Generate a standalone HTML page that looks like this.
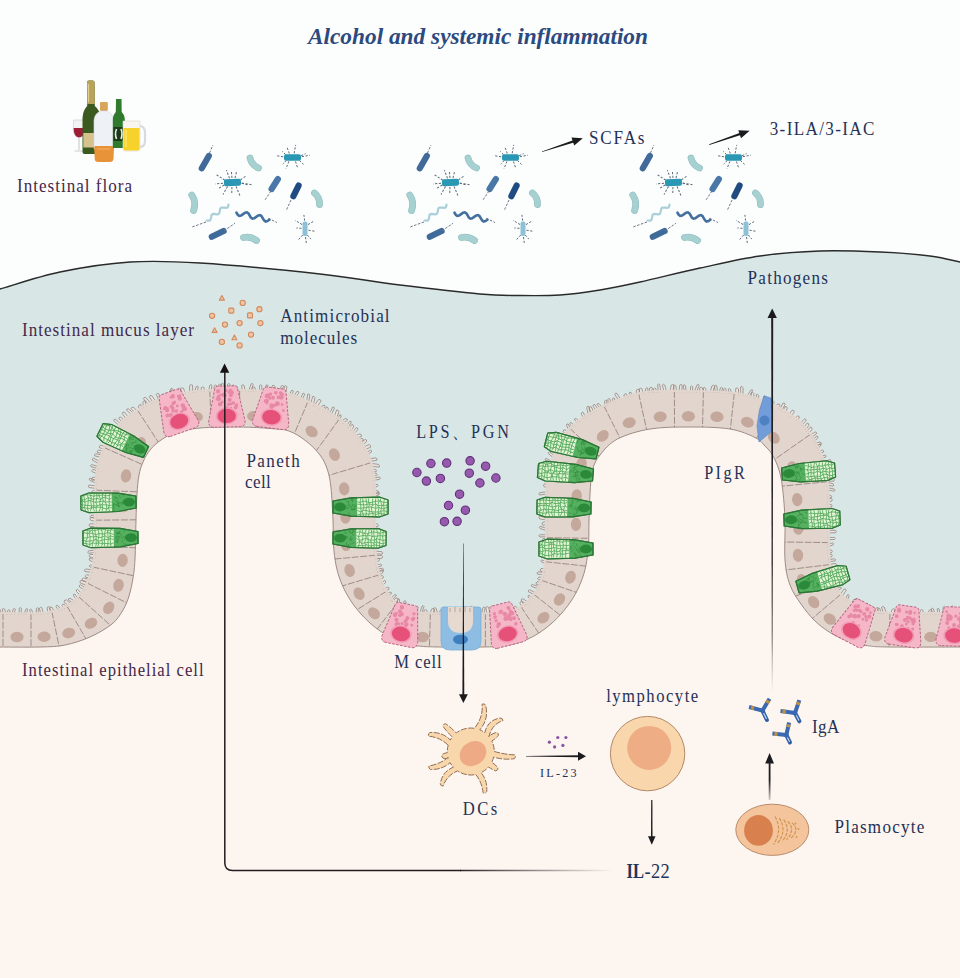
<!DOCTYPE html>
<html><head><meta charset="utf-8"><style>
html,body{margin:0;padding:0;background:#fdf5f0;}
svg{display:block;}
text{font-family:"Liberation Serif",serif;}
</style></head><body>
<svg width="960" height="978" viewBox="0 0 960 978">
<rect x="0" y="0" width="960" height="978" fill="#fdf5f0"/>
<path d="M -5.0 613.0 C 2.5 613.0 29.2 613.7 40.0 613.0 C 50.8 612.3 54.2 611.2 60.0 609.0 C 65.8 606.8 70.7 604.0 75.0 600.0 C 79.3 596.0 83.0 590.8 86.0 585.0 C 89.0 579.2 91.5 572.5 93.0 565.0 C 94.5 557.5 94.7 550.8 95.0 540.0 C 95.3 529.2 94.7 511.7 95.0 500.0 C 95.3 488.3 95.5 478.8 97.0 470.0 C 98.5 461.2 100.8 454.0 104.0 447.0 C 107.2 440.0 111.2 433.7 116.0 428.0 C 120.8 422.3 127.0 417.3 133.0 413.0 C 139.0 408.7 145.5 405.0 152.0 402.0 C 158.5 399.0 164.5 396.8 172.0 395.0 C 179.5 393.2 185.7 391.8 197.0 391.0 C 208.3 390.2 225.3 389.7 240.0 390.0 C 254.7 390.3 273.8 391.2 285.0 393.0 C 296.2 394.8 300.0 398.0 307.0 401.0 C 314.0 404.0 320.3 407.0 327.0 411.0 C 333.7 415.0 341.5 420.2 347.0 425.0 C 352.5 429.8 356.3 434.8 360.0 440.0 C 363.7 445.2 366.7 450.2 369.0 456.0 C 371.3 461.8 373.0 467.7 374.0 475.0 C 375.0 482.3 374.8 489.2 375.0 500.0 C 375.2 510.8 374.7 529.2 375.0 540.0 C 375.3 550.8 375.7 557.5 377.0 565.0 C 378.3 572.5 380.3 579.2 383.0 585.0 C 385.7 590.8 388.8 595.8 393.0 600.0 C 397.2 604.2 402.7 607.8 408.0 610.0 C 413.3 612.2 409.7 612.5 425.0 613.0 C 440.3 613.5 485.0 613.5 500.0 613.0 C 515.0 612.5 510.3 612.0 515.0 610.0 C 519.7 608.0 524.2 604.7 528.0 601.0 C 531.8 597.3 535.3 593.2 538.0 588.0 C 540.7 582.8 542.7 577.2 544.0 570.0 C 545.3 562.8 545.7 556.7 546.0 545.0 C 546.3 533.3 545.7 511.7 546.0 500.0 C 546.3 488.3 546.5 483.0 548.0 475.0 C 549.5 467.0 552.2 458.8 555.0 452.0 C 557.8 445.2 561.2 439.2 565.0 434.0 C 568.8 428.8 572.8 425.0 578.0 421.0 C 583.2 417.0 589.4 413.5 596.0 410.0 C 602.6 406.5 609.2 403.0 617.5 400.0 C 625.8 397.0 633.9 393.5 646.0 392.0 C 658.1 390.5 675.2 390.8 690.0 391.0 C 704.8 391.2 723.0 391.5 735.0 393.0 C 747.0 394.5 753.7 397.0 762.0 400.0 C 770.3 403.0 778.2 406.8 785.0 411.0 C 791.8 415.2 797.8 419.7 803.0 425.0 C 808.2 430.3 812.5 436.8 816.0 443.0 C 819.5 449.2 822.0 455.0 824.0 462.0 C 826.0 469.0 827.2 475.3 828.0 485.0 C 828.8 494.7 828.8 508.3 829.0 520.0 C 829.2 531.7 828.5 545.8 829.0 555.0 C 829.5 564.2 830.3 568.8 832.0 575.0 C 833.7 581.2 835.7 587.3 839.0 592.0 C 842.3 596.7 846.8 600.0 852.0 603.0 C 857.2 606.0 863.7 608.3 870.0 610.0 C 876.3 611.7 874.2 612.5 890.0 613.0 C 905.8 613.5 952.5 613.0 965.0 613.0 L 965 -5 L -5 -5 Z" fill="#d9e6e6"/>
<path d="M -5.0 290.0 C -4.2 289.8 -10.8 292.0 0.0 289.0 C 10.8 286.0 38.3 276.5 60.0 272.0 C 81.7 267.5 106.7 263.5 130.0 262.0 C 153.3 260.5 168.3 261.0 200.0 263.0 C 231.7 265.0 286.7 270.3 320.0 274.0 C 353.3 277.7 373.3 281.7 400.0 285.0 C 426.7 288.3 460.0 292.2 480.0 294.0 C 500.0 295.8 506.7 295.3 520.0 295.5 C 533.3 295.7 546.7 295.9 560.0 295.0 C 573.3 294.1 586.7 292.2 600.0 290.0 C 613.3 287.8 623.3 285.7 640.0 282.0 C 656.7 278.3 680.0 272.3 700.0 268.0 C 720.0 263.7 740.0 258.8 760.0 256.0 C 780.0 253.2 800.0 251.7 820.0 251.0 C 840.0 250.3 861.7 251.2 880.0 252.0 C 898.3 252.8 916.7 254.3 930.0 256.0 C 943.3 257.7 954.2 260.8 960.0 262.0 C 965.8 263.2 964.2 262.8 965.0 263.0 L 965 -5 L -5 -5 Z" fill="#fcfdfd"/>
<path d="M -5.0 613.0 C 2.5 613.0 29.2 613.7 40.0 613.0 C 50.8 612.3 54.2 611.2 60.0 609.0 C 65.8 606.8 70.7 604.0 75.0 600.0 C 79.3 596.0 83.0 590.8 86.0 585.0 C 89.0 579.2 91.5 572.5 93.0 565.0 C 94.5 557.5 94.7 550.8 95.0 540.0 C 95.3 529.2 94.7 511.7 95.0 500.0 C 95.3 488.3 95.5 478.8 97.0 470.0 C 98.5 461.2 100.8 454.0 104.0 447.0 C 107.2 440.0 111.2 433.7 116.0 428.0 C 120.8 422.3 127.0 417.3 133.0 413.0 C 139.0 408.7 145.5 405.0 152.0 402.0 C 158.5 399.0 164.5 396.8 172.0 395.0 C 179.5 393.2 185.7 391.8 197.0 391.0 C 208.3 390.2 225.3 389.7 240.0 390.0 C 254.7 390.3 273.8 391.2 285.0 393.0 C 296.2 394.8 300.0 398.0 307.0 401.0 C 314.0 404.0 320.3 407.0 327.0 411.0 C 333.7 415.0 341.5 420.2 347.0 425.0 C 352.5 429.8 356.3 434.8 360.0 440.0 C 363.7 445.2 366.7 450.2 369.0 456.0 C 371.3 461.8 373.0 467.7 374.0 475.0 C 375.0 482.3 374.8 489.2 375.0 500.0 C 375.2 510.8 374.7 529.2 375.0 540.0 C 375.3 550.8 375.7 557.5 377.0 565.0 C 378.3 572.5 380.3 579.2 383.0 585.0 C 385.7 590.8 388.8 595.8 393.0 600.0 C 397.2 604.2 402.7 607.8 408.0 610.0 C 413.3 612.2 409.7 612.5 425.0 613.0 C 440.3 613.5 485.0 613.5 500.0 613.0 C 515.0 612.5 510.3 612.0 515.0 610.0 C 519.7 608.0 524.2 604.7 528.0 601.0 C 531.8 597.3 535.3 593.2 538.0 588.0 C 540.7 582.8 542.7 577.2 544.0 570.0 C 545.3 562.8 545.7 556.7 546.0 545.0 C 546.3 533.3 545.7 511.7 546.0 500.0 C 546.3 488.3 546.5 483.0 548.0 475.0 C 549.5 467.0 552.2 458.8 555.0 452.0 C 557.8 445.2 561.2 439.2 565.0 434.0 C 568.8 428.8 572.8 425.0 578.0 421.0 C 583.2 417.0 589.4 413.5 596.0 410.0 C 602.6 406.5 609.2 403.0 617.5 400.0 C 625.8 397.0 633.9 393.5 646.0 392.0 C 658.1 390.5 675.2 390.8 690.0 391.0 C 704.8 391.2 723.0 391.5 735.0 393.0 C 747.0 394.5 753.7 397.0 762.0 400.0 C 770.3 403.0 778.2 406.8 785.0 411.0 C 791.8 415.2 797.8 419.7 803.0 425.0 C 808.2 430.3 812.5 436.8 816.0 443.0 C 819.5 449.2 822.0 455.0 824.0 462.0 C 826.0 469.0 827.2 475.3 828.0 485.0 C 828.8 494.7 828.8 508.3 829.0 520.0 C 829.2 531.7 828.5 545.8 829.0 555.0 C 829.5 564.2 830.3 568.8 832.0 575.0 C 833.7 581.2 835.7 587.3 839.0 592.0 C 842.3 596.7 846.8 600.0 852.0 603.0 C 857.2 606.0 863.7 608.3 870.0 610.0 C 876.3 611.7 874.2 612.5 890.0 613.0 C 905.8 613.5 952.5 613.0 965.0 613.0 L 965.0 647.0 C 952.5 647.0 906.5 647.2 890.0 647.0 C 873.5 646.8 873.1 646.5 866.0 645.5 C 858.9 644.5 853.5 643.2 847.5 641.0 C 841.5 638.8 835.6 636.0 830.0 632.5 C 824.4 629.0 818.8 624.8 814.0 620.0 C 809.2 615.2 805.0 609.8 801.0 604.0 C 797.0 598.2 792.7 592.3 790.0 585.0 C 787.3 577.7 785.8 570.8 785.0 560.0 C 784.2 549.2 785.4 532.0 785.0 520.0 C 784.6 508.0 783.5 496.3 782.5 488.0 C 781.5 479.7 780.7 475.5 779.0 470.0 C 777.3 464.5 774.8 459.0 772.5 455.0 C 770.2 451.0 767.9 448.9 765.0 446.0 C 762.1 443.1 760.8 440.3 755.0 437.5 C 749.2 434.7 740.8 430.8 730.0 429.0 C 719.2 427.2 703.3 427.0 690.0 427.0 C 676.7 427.0 662.1 427.0 650.0 429.0 C 637.9 431.0 625.8 434.7 617.5 439.0 C 609.2 443.3 604.2 449.8 600.0 455.0 C 595.8 460.2 594.2 463.5 592.5 470.0 C 590.8 476.5 590.6 485.7 590.0 494.0 C 589.4 502.3 589.2 511.5 589.0 520.0 C 588.8 528.5 589.0 537.5 588.5 545.0 C 588.0 552.5 587.2 558.8 586.0 565.0 C 584.8 571.2 583.2 576.5 581.0 582.0 C 578.8 587.5 576.3 592.7 573.0 598.0 C 569.7 603.3 565.5 609.0 561.0 614.0 C 556.5 619.0 551.5 623.8 546.0 628.0 C 540.5 632.2 534.5 636.1 528.0 639.0 C 521.5 641.9 514.7 644.2 507.0 645.5 C 499.3 646.8 493.2 646.8 482.0 647.0 C 470.8 647.2 451.2 647.2 440.0 647.0 C 428.8 646.8 422.7 646.8 415.0 645.5 C 407.3 644.2 400.5 641.9 394.0 639.0 C 387.5 636.1 381.5 632.2 376.0 628.0 C 370.5 623.8 365.5 619.0 361.0 614.0 C 356.5 609.0 352.3 603.3 349.0 598.0 C 345.7 592.7 343.2 587.5 341.0 582.0 C 338.8 576.5 337.2 571.2 336.0 565.0 C 334.8 558.8 334.0 552.5 333.5 545.0 C 333.0 537.5 333.4 529.5 333.0 520.0 C 332.6 510.5 331.9 496.3 331.0 488.0 C 330.1 479.7 329.3 475.5 327.5 470.0 C 325.7 464.5 323.6 459.8 320.0 455.0 C 316.4 450.2 311.2 445.0 306.0 441.0 C 300.8 437.0 295.0 433.1 289.0 431.0 C 283.0 428.9 278.2 429.2 270.0 428.5 C 261.8 427.8 251.7 427.1 240.0 427.0 C 228.3 426.9 210.8 427.0 200.0 428.0 C 189.2 429.0 181.5 431.0 175.0 433.0 C 168.5 435.0 165.2 437.2 161.0 440.0 C 156.8 442.8 153.0 446.3 150.0 450.0 C 147.0 453.7 144.8 457.8 143.0 462.0 C 141.2 466.2 140.0 469.7 139.0 475.0 C 138.0 480.3 137.5 486.5 137.0 494.0 C 136.5 501.5 136.3 509.2 136.0 520.0 C 135.7 530.8 135.5 549.3 135.0 559.0 C 134.5 568.7 134.0 571.8 133.0 578.0 C 132.0 584.2 130.7 590.7 129.0 596.0 C 127.3 601.3 125.8 605.3 123.0 610.0 C 120.2 614.7 117.5 619.5 112.0 624.0 C 106.5 628.5 97.8 633.5 90.0 637.0 C 82.2 640.5 73.3 643.3 65.0 645.0 C 56.7 646.7 51.7 646.7 40.0 647.0 C 28.3 647.3 2.5 647.0 -5.0 647.0 Z" fill="#e2d5cd"/>
<path d="M -5.0 647.0 C 2.5 647.0 28.3 647.3 40.0 647.0 C 51.7 646.7 56.7 646.7 65.0 645.0 C 73.3 643.3 82.2 640.5 90.0 637.0 C 97.8 633.5 106.5 628.5 112.0 624.0 C 117.5 619.5 120.2 614.7 123.0 610.0 C 125.8 605.3 127.3 601.3 129.0 596.0 C 130.7 590.7 132.0 584.2 133.0 578.0 C 134.0 571.8 134.5 568.7 135.0 559.0 C 135.5 549.3 135.7 530.8 136.0 520.0 C 136.3 509.2 136.5 501.5 137.0 494.0 C 137.5 486.5 138.0 480.3 139.0 475.0 C 140.0 469.7 141.2 466.2 143.0 462.0 C 144.8 457.8 147.0 453.7 150.0 450.0 C 153.0 446.3 156.8 442.8 161.0 440.0 C 165.2 437.2 168.5 435.0 175.0 433.0 C 181.5 431.0 189.2 429.0 200.0 428.0 C 210.8 427.0 228.3 426.9 240.0 427.0 C 251.7 427.1 261.8 427.8 270.0 428.5 C 278.2 429.2 283.0 428.9 289.0 431.0 C 295.0 433.1 300.8 437.0 306.0 441.0 C 311.2 445.0 316.4 450.2 320.0 455.0 C 323.6 459.8 325.7 464.5 327.5 470.0 C 329.3 475.5 330.1 479.7 331.0 488.0 C 331.9 496.3 332.6 510.5 333.0 520.0 C 333.4 529.5 333.0 537.5 333.5 545.0 C 334.0 552.5 334.8 558.8 336.0 565.0 C 337.2 571.2 338.8 576.5 341.0 582.0 C 343.2 587.5 345.7 592.7 349.0 598.0 C 352.3 603.3 356.5 609.0 361.0 614.0 C 365.5 619.0 370.5 623.8 376.0 628.0 C 381.5 632.2 387.5 636.1 394.0 639.0 C 400.5 641.9 407.3 644.2 415.0 645.5 C 422.7 646.8 428.8 646.8 440.0 647.0 C 451.2 647.2 470.8 647.2 482.0 647.0 C 493.2 646.8 499.3 646.8 507.0 645.5 C 514.7 644.2 521.5 641.9 528.0 639.0 C 534.5 636.1 540.5 632.2 546.0 628.0 C 551.5 623.8 556.5 619.0 561.0 614.0 C 565.5 609.0 569.7 603.3 573.0 598.0 C 576.3 592.7 578.8 587.5 581.0 582.0 C 583.2 576.5 584.8 571.2 586.0 565.0 C 587.2 558.8 588.0 552.5 588.5 545.0 C 589.0 537.5 588.8 528.5 589.0 520.0 C 589.2 511.5 589.4 502.3 590.0 494.0 C 590.6 485.7 590.8 476.5 592.5 470.0 C 594.2 463.5 595.8 460.2 600.0 455.0 C 604.2 449.8 609.2 443.3 617.5 439.0 C 625.8 434.7 637.9 431.0 650.0 429.0 C 662.1 427.0 676.7 427.0 690.0 427.0 C 703.3 427.0 719.2 427.2 730.0 429.0 C 740.8 430.8 749.2 434.7 755.0 437.5 C 760.8 440.3 762.1 443.1 765.0 446.0 C 767.9 448.9 770.2 451.0 772.5 455.0 C 774.8 459.0 777.3 464.5 779.0 470.0 C 780.7 475.5 781.5 479.7 782.5 488.0 C 783.5 496.3 784.6 508.0 785.0 520.0 C 785.4 532.0 784.2 549.2 785.0 560.0 C 785.8 570.8 787.3 577.7 790.0 585.0 C 792.7 592.3 797.0 598.2 801.0 604.0 C 805.0 609.8 809.2 615.2 814.0 620.0 C 818.8 624.8 824.4 629.0 830.0 632.5 C 835.6 636.0 841.5 638.8 847.5 641.0 C 853.5 643.2 858.9 644.5 866.0 645.5 C 873.1 646.5 873.5 646.8 890.0 647.0 C 906.5 647.2 952.5 647.0 965.0 647.0" fill="none" stroke="#9e8c86" stroke-width="1"/>
<path d="M3.0 613.1L3.0 647.0 M31.0 613.3L31.0 647.1 M51.9 611.6L59.0 646.0 M66.8 605.9L85.9 638.7 M78.4 596.5L110.4 625.3 M87.0 583.0L126.6 602.8 M92.6 567.0L133.4 575.7 M94.8 546.2L135.4 547.8 M95.0 520.2L136.0 519.8 M95.3 490.2L137.1 491.8 M103.8 447.4L142.0 464.4 M137.4 410.0L158.2 442.0 M175.0 394.3L183.5 430.7 M209.8 390.3L211.3 427.3 M239.7 390.0L239.3 427.0 M269.7 391.3L267.2 428.3 M308.0 401.4L294.5 433.4 M339.3 419.0L316.4 450.6 M371.3 462.6L329.0 475.3 M375.0 503.2L332.2 503.1 M374.9 531.2L333.2 531.0 M375.7 555.2L334.9 559.0 M379.3 574.9L342.6 585.8 M386.3 591.4L357.2 609.6 M396.8 603.4L377.3 629.0 M412.5 612.0L401.9 642.1 M430.4 613.1L429.4 646.8 M457.4 613.4L457.4 647.2 M485.4 613.3L485.4 646.9 M509.4 612.5L513.2 644.2 M520.9 606.7L538.7 633.1 M534.0 594.4L560.0 615.1 M541.3 580.3L576.3 592.3 M545.2 561.7L585.8 566.1 M546.1 537.7L588.8 538.3 M545.9 510.7L589.3 510.3 M548.2 473.9L590.8 482.3 M569.8 428.3L599.1 456.1 M603.9 405.9L619.9 437.8 M638.6 393.3L646.6 429.6 M674.4 390.9L674.5 427.1 M703.4 391.2L702.5 427.1 M734.3 392.9L730.4 429.1 M772.5 404.3L756.6 438.4 M810.5 434.3L774.8 459.3 M827.7 481.7L782.3 486.1 M828.9 513.6L784.7 514.0 M828.8 542.6L784.8 542.0 M829.8 564.6L786.1 569.9 M834.1 582.0L795.6 596.0 M840.8 594.3L812.4 618.4 M852.6 603.4L834.7 635.2 M870.3 610.1L860.9 644.7 M890.0 613.0L888.8 647.0 M917.0 613.2L916.8 647.1 M945.0 613.1L944.8 647.1" fill="none" stroke="#8a7672" stroke-width="0.85" stroke-dasharray="7 1.6" opacity="0.9"/>
<path d="M-1.4 614.2L-3.0 609.0Q-2.0 607.5 -0.2 609.0L1.4 614.3 M3.7 614.3L2.2 609.2Q3.0 607.7 4.7 609.2L6.2 614.3 M7.9 614.4L7.7 610.5Q8.7 609.0 9.9 610.5L10.1 614.4 M11.9 614.4L13.2 609.1Q14.6 607.6 15.3 609.1L14.1 614.4 M19.0 614.5L19.3 608.3Q20.4 606.8 21.4 608.3L21.0 614.5 M24.0 614.5L25.7 609.3Q27.2 607.8 27.7 609.2L26.0 614.5 M31.0 614.5L29.6 609.8Q30.3 608.3 31.7 609.7L33.1 614.4 M36.0 614.4L36.4 608.5Q37.5 606.9 38.4 608.3L38.1 614.3 M40.9 614.3L39.4 608.2Q40.3 606.5 41.9 607.8L43.4 613.9 M48.0 613.6L47.1 607.7Q48.1 605.9 49.5 607.1L50.4 613.0 M52.1 612.9L49.6 608.2Q50.1 606.4 52.0 607.2L54.5 612.0 M59.1 610.7L56.0 606.6Q56.1 604.9 58.0 605.6L61.0 609.8 M64.6 608.5L62.1 605.6Q62.2 603.8 64.2 604.2L66.7 607.2 M69.0 606.2L64.0 601.8Q64.0 599.8 66.3 599.9L71.3 604.3 M73.4 603.1L68.4 600.0Q68.0 598.4 70.1 598.3L75.1 601.4 M76.7 600.2L73.5 595.7Q73.2 593.5 74.8 594.0L77.9 598.6 M80.7 595.8L76.4 591.4Q75.9 589.3 77.6 589.4L81.9 593.8 M84.7 590.0L79.4 587.0Q78.7 585.1 80.5 584.8L85.8 587.8 M87.1 585.6L80.1 582.8Q79.3 581.0 81.2 580.3L88.2 583.2 M88.9 581.9L82.4 580.5Q81.3 578.9 83.3 578.0L89.8 579.5 M90.5 578.2L85.8 577.3Q84.7 575.7 86.6 574.7L91.2 575.6 M92.5 572.4L84.9 571.5Q83.7 570.0 85.5 569.0L93.0 569.9 M93.6 568.3L90.0 567.0Q88.7 565.5 90.3 564.9L93.9 566.1 M94.8 562.5L89.7 560.5Q88.4 558.7 89.9 558.0L95.0 560.0 M95.4 557.7L90.0 557.2Q88.5 555.6 90.1 554.3L95.5 554.8 M95.7 552.4L88.5 553.3Q87.0 552.3 88.6 550.9L95.8 550.0 M96.0 546.3L89.6 546.7Q88.1 545.7 89.6 544.5L96.1 544.1 M96.2 541.3L91.9 542.1Q90.4 541.2 91.9 539.8L96.2 539.1 M96.3 537.3L89.2 538.9Q87.7 538.1 89.2 536.6L96.3 535.0 M96.3 531.5L91.0 532.0Q89.5 530.9 91.0 529.4L96.3 528.9 M96.3 526.5L89.8 526.5Q88.3 525.2 89.8 523.9L96.2 523.9 M96.2 521.6L90.7 520.3Q89.2 518.4 90.7 517.3L96.2 518.7 M96.2 517.2L91.0 517.6Q89.5 516.7 91.0 515.5L96.2 515.1 M96.1 510.3L92.3 511.4Q90.8 510.7 92.3 509.2L96.1 508.1 M96.1 504.3L92.1 503.9Q90.7 502.7 92.2 501.8L96.2 502.2 M96.2 499.4L92.0 500.4Q90.6 499.6 92.1 498.1L96.3 497.0 M96.4 492.4L92.6 493.0Q91.1 492.1 92.7 490.7L96.5 490.1 M96.5 488.5L89.0 487.5Q87.6 486.0 89.1 485.0L96.7 486.0 M96.8 483.5L89.8 480.4Q88.5 478.6 90.1 478.0L97.0 481.1 M97.0 479.7L92.0 480.2Q90.7 479.0 92.4 477.5L97.4 477.0 M97.6 473.7L92.3 471.9Q91.1 470.2 92.8 469.4L98.1 471.2 M98.4 468.7L91.1 466.7Q89.9 465.2 91.6 464.6L98.9 466.6 M99.4 463.9L92.7 460.3Q91.8 458.4 93.5 458.1L100.1 461.7 M101.2 457.3L94.8 455.9Q93.7 454.5 95.7 453.7L102.1 455.1 M102.5 453.6L97.5 452.4Q96.5 450.9 98.5 450.1L103.5 451.3 M104.2 449.2L99.4 447.6Q98.7 445.9 100.8 445.2L105.6 446.7 M107.2 442.9L102.2 437.8Q101.8 435.6 103.7 435.5L108.7 440.6 M109.7 438.6L106.1 436.0Q105.7 434.1 107.7 433.8L111.3 436.4 M112.6 434.3L107.1 430.0Q106.6 428.2 108.5 428.3L113.9 432.6 M114.6 431.4L109.0 426.2Q108.9 424.1 111.1 424.1L116.7 429.3 M119.4 425.9L113.8 420.7Q113.5 418.9 115.5 419.2L121.1 424.4 M122.9 422.6L118.9 418.7Q118.8 416.8 120.8 417.1L124.8 421.0 M126.5 419.4L122.3 413.7Q122.5 411.7 124.4 412.1L128.7 417.8 M132.1 415.0L126.6 410.2Q126.4 408.5 128.6 408.9L134.1 413.7 M135.2 412.8L131.2 408.7Q131.3 406.9 133.6 407.3L137.6 411.4 M139.3 410.1L138.5 406.1Q139.4 403.9 140.9 404.8L141.7 408.8 M143.6 407.6L142.8 402.2Q143.8 400.0 145.2 401.0L146.0 406.4 M148.9 404.8L143.4 398.7Q143.6 397.0 145.8 397.6L151.3 403.7 M153.2 402.7L149.2 396.7Q149.6 395.0 151.8 395.7L155.9 401.7 M158.8 400.3L156.3 394.4Q157.0 392.7 158.8 393.7L161.3 399.5 M164.4 398.3L164.2 394.7Q165.4 392.8 166.8 394.0L167.0 397.6 M169.3 396.9L169.7 390.9Q170.9 389.0 172.0 390.3L171.6 396.3 M173.2 395.9L170.4 389.3Q170.9 387.6 172.6 388.8L175.4 395.4 M178.0 394.8L178.1 389.0Q179.3 387.3 180.4 388.7L180.3 394.4 M182.5 393.8L180.6 388.7Q181.5 387.1 183.5 388.4L185.4 393.5 M189.5 392.9L189.7 385.5Q191.2 383.8 192.5 385.2L192.3 392.6 M194.6 392.4L195.9 387.0Q197.5 385.4 198.3 386.8L197.1 392.2 M201.4 391.9L201.2 387.7Q202.6 386.2 204.1 387.6L204.2 391.8 M208.7 391.5L209.7 385.4Q211.0 383.8 211.9 385.3L210.9 391.5 M213.5 391.4L214.3 385.8Q215.7 384.3 216.8 385.8L216.1 391.3 M218.5 391.2L218.6 384.8Q219.8 383.3 221.1 384.8L221.0 391.2 M223.7 391.1L221.4 383.8Q222.0 382.3 223.6 383.8L225.8 391.1 M227.5 391.1L227.5 384.3Q228.8 382.8 230.1 384.3L230.0 391.1 M231.5 391.1L232.0 385.7Q233.4 384.2 234.5 385.7L234.0 391.1 M235.5 391.1L234.9 386.7Q236.0 385.3 237.4 386.8L238.0 391.2 M242.4 391.2L241.6 385.5Q242.7 384.1 244.2 385.6L245.0 391.3 M248.6 391.4L251.0 384.1Q252.5 382.6 253.2 384.2L250.8 391.5 M253.5 391.6L252.6 387.5Q253.5 386.0 255.0 387.6L255.9 391.7 M259.6 391.9L259.6 385.5Q260.8 384.1 261.8 385.6L261.8 392.0 M263.6 392.1L266.0 385.4Q267.6 384.0 268.1 385.6L265.7 392.3 M268.1 392.4L269.6 388.4Q271.6 387.1 272.6 388.7L271.1 392.7 M273.1 392.8L272.0 385.9Q273.2 384.5 274.9 386.2L276.0 393.1 M278.4 393.3L281.4 385.9Q283.1 384.7 283.6 386.3L280.5 393.6 M283.2 393.8L284.6 386.1Q286.0 385.0 286.9 386.8L285.5 394.4 M289.1 394.9L291.5 390.6Q293.2 389.6 293.4 391.3L291.0 395.6 M293.7 396.2L296.8 391.6Q298.7 390.9 298.9 392.7L295.8 397.2 M300.2 399.2L302.8 393.5Q304.3 392.6 304.7 394.4L302.1 400.0 M306.5 402.1L307.7 394.2Q309.0 393.1 309.8 395.1L308.5 403.0 M310.8 403.9L312.6 396.6Q314.2 395.7 315.0 397.8L313.3 405.1 M314.3 405.5L318.5 399.6Q320.7 399.1 321.1 401.0L316.9 406.9 M319.8 408.3L323.0 405.3Q325.2 404.9 325.2 406.6L322.0 409.6 M325.0 411.2L326.0 407.2Q327.6 406.4 328.3 408.7L327.3 412.6 M329.5 413.9L332.6 407.1Q334.1 406.3 334.3 408.3L331.2 415.0 M334.2 416.9L336.6 410.1Q338.3 409.4 338.9 411.7L336.5 418.5 M337.8 419.4L339.6 414.9Q341.0 414.1 341.2 416.2L339.4 420.6 M340.8 421.4L345.5 418.5Q347.8 418.6 347.4 420.3L342.7 423.2 M346.4 425.9L349.8 421.2Q351.4 420.7 351.2 422.7L347.8 427.4 M349.0 428.3L351.8 424.5Q353.7 424.4 353.7 426.8L350.8 430.5 M352.5 432.1L356.4 427.7Q358.1 427.5 357.8 429.6L353.9 434.1 M355.4 435.7L359.8 433.9Q362.1 434.5 361.5 436.3L357.2 438.2 M358.5 439.9L361.8 438.4Q363.9 438.9 363.2 440.6L359.9 442.0 M360.8 443.1L365.3 439.4Q367.1 439.5 366.5 441.6L362.0 445.3 M363.4 447.1L369.2 444.6Q371.2 445.4 370.4 447.3L364.6 449.7 M366.3 452.6L370.6 450.1Q372.2 450.4 371.3 452.2L367.0 454.7 M368.9 458.8L376.0 457.9Q377.8 459.0 376.7 460.4L369.6 461.3 M370.4 463.3L378.5 464.4Q380.4 466.0 379.1 467.2L371.0 466.1 M371.9 469.4L375.7 469.5Q377.4 470.6 376.1 471.7L372.2 471.6 M372.6 473.2L376.4 473.3Q378.0 474.6 376.6 475.7L372.8 475.6 M373.2 478.2L379.6 477.0Q381.1 477.9 379.6 479.3L373.3 480.4 M373.6 485.1L377.3 484.3Q378.8 485.0 377.3 486.5L373.6 487.4 M373.7 489.8L378.3 491.2Q379.9 493.2 378.4 494.2L373.7 492.7 M373.7 493.8L378.6 492.2Q380.1 493.1 378.6 495.1L373.8 496.7 M373.8 501.0L378.9 499.3Q380.4 500.0 378.9 501.7L373.8 503.4 M373.8 506.1L378.5 506.7Q380.0 508.0 378.5 508.9L373.8 508.4 M373.8 512.2L377.7 513.1Q379.2 514.5 377.7 515.2L373.8 514.3 M373.8 516.1L377.5 514.9Q379.0 515.5 377.4 517.2L373.8 518.4 M373.7 522.8L377.6 524.1Q379.1 526.0 377.6 526.9L373.7 525.7 M373.7 527.8L380.0 528.7Q381.5 530.4 380.0 531.6L373.7 530.7 M373.7 533.0L380.5 533.9Q382.0 535.3 380.5 536.4L373.7 535.5 M373.8 539.3L380.4 539.7Q381.9 540.8 380.5 541.7L373.8 541.3 M373.9 543.9L380.1 544.5Q381.7 546.1 380.3 547.3L374.1 546.7 M374.2 551.1L381.7 551.6Q383.4 553.0 382.0 554.2L374.5 553.6 M374.5 555.9L381.6 555.4Q383.3 556.7 382.0 558.2L374.9 558.8 M375.0 560.1L378.5 558.2Q380.2 558.7 379.0 560.8L375.5 562.7 M375.8 565.4L380.8 564.1Q382.4 564.7 381.2 566.1L376.3 567.4 M376.5 569.2L382.7 568.3Q384.5 569.2 383.4 570.7L377.2 571.6 M377.4 572.9L382.1 569.6Q383.8 570.1 383.0 572.4L378.3 575.7 M378.5 577.0L382.1 575.5Q384.0 576.1 383.2 578.0L379.6 579.5 M381.1 583.9L384.4 580.4Q386.1 580.3 385.5 582.4L382.2 585.8 M383.7 589.3L387.6 587.2Q389.6 587.4 389.0 589.2L385.0 591.3 M386.3 593.9L389.9 592.1Q392.0 592.3 391.4 593.8L387.8 595.6 M390.1 598.8L394.7 594.7Q396.6 594.3 396.2 596.0L391.6 600.2 M392.7 601.6L396.0 597.9Q398.1 597.6 398.2 599.5L394.9 603.2 M396.9 605.2L397.9 599.0Q399.0 597.9 399.7 599.9L398.7 606.1 M402.8 608.9L404.1 601.0Q405.4 600.0 406.1 602.0L404.8 609.8 M407.4 611.4L408.3 606.7Q409.8 605.4 410.7 607.1L409.9 611.8 M413.1 613.6L415.8 606.9Q417.6 605.5 418.3 607.0L415.7 613.7 M419.4 614.0L422.0 606.4Q423.5 604.9 424.0 606.4L421.4 614.1 M423.9 614.2L424.0 610.4Q425.5 608.9 427.0 610.4L426.9 614.2 M429.9 614.3L431.5 609.2Q433.4 607.7 434.4 609.2L432.9 614.4 M435.1 614.4L433.7 608.4Q434.6 606.9 436.2 608.4L437.7 614.4 M439.2 614.5L440.1 610.4Q441.7 608.9 442.6 610.4L441.7 614.5 M444.0 614.5L442.8 608.0Q443.9 606.5 445.7 608.0L446.9 614.5 M447.9 614.5L446.7 609.3Q447.8 607.8 449.7 609.3L450.9 614.5 M454.2 614.6L455.0 609.3Q456.5 607.8 457.5 609.3L456.6 614.6 M460.4 614.6L461.6 609.7Q462.9 608.2 463.6 609.7L462.4 614.6 M466.0 614.6L464.0 607.5Q465.1 606.0 467.0 607.5L468.9 614.6 M471.2 614.6L470.1 607.2Q471.1 605.7 472.5 607.2L473.6 614.5 M475.4 614.5L476.7 609.4Q478.1 607.8 478.8 609.3L477.5 614.5 M481.3 614.5L482.9 607.7Q484.4 606.2 485.2 607.7L483.6 614.5 M487.0 614.5L485.8 607.4Q487.0 605.9 488.7 607.3L489.9 614.4 M491.3 614.4L490.8 606.7Q491.8 605.2 493.1 606.7L493.6 614.3 M496.5 614.3L495.8 607.5Q496.7 605.9 497.9 607.4L498.5 614.2 M501.3 614.3L502.7 606.6Q504.2 604.9 505.2 606.3L503.8 614.0 M507.8 614.2L506.8 610.5Q507.6 608.5 509.1 609.5L510.0 613.2 M511.9 613.2L508.2 608.0Q508.2 606.3 510.0 607.1L513.7 612.2 M516.4 610.9L513.9 607.7Q514.0 605.8 515.8 606.3L518.3 609.5 M522.4 607.3L519.9 603.4Q520.1 601.2 521.9 601.6L524.4 605.6 M526.5 604.2L521.2 600.5Q520.9 598.7 523.0 598.7L528.2 602.3 M531.1 599.8L528.1 597.1Q527.6 595.2 529.3 595.4L532.3 598.1 M535.1 595.1L528.5 591.8Q527.7 590.1 529.5 589.8L536.1 593.1 M538.9 589.1L531.6 586.4Q530.6 584.9 532.4 584.4L539.7 587.1 M541.0 584.6L536.4 584.3Q535.2 582.9 537.1 581.8L541.8 582.2 M542.8 579.9L538.2 579.6Q537.0 578.3 538.8 577.1L543.4 577.4 M544.2 574.9L537.5 574.1Q536.3 572.8 538.0 571.8L544.7 572.6 M545.1 571.1L540.7 571.4Q539.3 570.1 541.0 568.6L545.4 568.4 M546.2 563.8L541.6 562.0Q540.2 560.4 541.7 559.9L546.3 561.7 M546.7 558.2L541.0 556.8Q539.5 555.0 541.1 554.0L546.8 555.3 M547.0 551.0L542.3 551.6Q540.9 550.7 542.4 549.2L547.1 548.6 M547.2 547.1L541.8 547.8Q540.3 546.6 541.8 545.0L547.2 544.3 M547.3 541.1L543.2 541.3Q541.7 540.0 543.2 538.6L547.3 538.3 M547.3 536.8L539.6 536.9Q538.1 535.8 539.6 534.8L547.3 534.7 M547.3 530.8L540.1 528.5Q538.6 526.9 540.1 526.3L547.3 528.6 M547.2 524.2L542.8 525.3Q541.3 524.2 542.7 522.4L547.2 521.2 M547.2 520.0L539.6 518.9Q538.1 517.4 539.6 516.3L547.2 517.4 M547.1 515.7L543.3 515.0Q541.8 513.7 543.3 513.0L547.1 513.7 M547.1 510.1L542.6 508.7Q541.1 506.9 542.6 506.0L547.1 507.4 M547.1 505.0L539.5 504.1Q538.0 502.7 539.5 501.6L547.2 502.5 M547.2 499.8L540.6 501.3Q539.2 500.6 540.7 499.3L547.3 497.7 M547.3 493.9L539.7 495.0Q538.2 494.1 539.8 492.7L547.5 491.7 M547.6 487.4L544.1 486.8Q542.8 485.1 544.5 483.8L548.0 484.4 M548.3 480.4L540.9 478.2Q539.8 476.3 541.5 475.3L548.8 477.6 M549.1 475.1L543.6 473.5Q542.4 472.1 544.1 471.5L549.6 473.2 M550.4 469.3L543.9 468.2Q542.7 467.0 544.5 466.3L551.0 467.4 M552.0 463.6L545.4 460.4Q544.4 458.8 546.2 458.5L552.7 461.7 M553.9 458.1L548.7 453.9Q548.0 451.9 549.6 451.8L554.7 456.0 M555.6 453.5L550.1 449.9Q549.4 448.0 551.1 447.7L556.6 451.4 M557.0 450.0L553.6 447.2Q553.1 445.0 555.0 444.8L558.3 447.6 M559.7 444.5L556.6 442.4Q555.9 440.6 557.8 440.6L560.9 442.7 M563.0 438.7L559.0 436.7Q558.4 434.9 560.7 434.5L564.7 436.6 M565.9 434.6L563.2 431.7Q563.0 429.6 564.9 429.8L567.6 432.7 M569.2 430.6L566.5 425.4Q566.6 423.3 568.1 424.0L570.7 429.2 M572.5 427.1L569.7 424.0Q569.6 422.2 571.5 422.7L574.2 425.8 M577.8 422.6L574.5 419.8Q574.1 418.2 576.2 418.7L579.5 421.5 M583.3 418.6L581.3 413.5Q581.8 411.5 583.3 412.4L585.3 417.5 M588.4 415.5L586.7 407.6Q587.4 405.5 588.8 406.4L590.5 414.4 M591.8 413.6L589.0 408.0Q589.4 406.1 591.2 406.8L594.0 412.4 M596.3 411.2L592.9 405.8Q593.1 404.0 595.0 404.7L598.4 410.1 M600.8 408.8L597.1 404.6Q597.0 403.0 599.0 403.7L602.7 407.9 M605.2 406.6L604.6 401.3Q605.4 399.3 606.5 400.5L607.1 405.7 M608.7 404.9L607.7 399.7Q608.4 397.8 609.8 398.9L610.8 404.0 M613.3 402.9L612.5 399.0Q613.2 397.2 614.5 398.3L615.3 402.1 M618.8 400.8L614.8 394.3Q615.1 392.6 617.0 393.5L621.0 400.0 M625.1 398.4L623.8 395.0Q624.7 393.2 626.5 394.2L627.8 397.6 M631.0 396.4L629.1 393.1Q629.3 391.5 631.1 392.6L633.1 395.9 M636.4 394.9L636.3 390.2Q637.8 388.5 639.2 389.7L639.2 394.4 M640.2 394.0L639.0 389.1Q640.1 387.4 641.9 388.7L643.1 393.7 M645.4 393.2L645.7 388.6Q647.0 387.0 648.0 388.4L647.7 393.0 M649.2 392.8L649.7 388.0Q651.1 386.4 652.3 387.9L651.8 392.7 M654.2 392.5L653.4 388.9Q654.3 387.3 655.9 388.8L656.7 392.4 M658.3 392.3L657.6 384.7Q658.6 383.2 659.8 384.6L660.6 392.2 M664.2 392.1L662.3 385.1Q663.2 383.6 664.8 385.1L666.7 392.1 M670.0 392.0L671.2 385.1Q672.9 383.6 674.0 385.1L672.8 392.1 M674.2 392.0L673.6 385.9Q674.6 384.4 675.9 385.9L676.6 392.1 M679.1 392.1L679.7 385.2Q681.1 383.7 682.2 385.2L681.7 392.1 M684.4 392.1L683.3 385.4Q684.0 383.9 685.3 385.4L686.4 392.2 M690.3 392.2L690.6 386.6Q691.7 385.1 692.7 386.7L692.5 392.2 M694.3 392.2L696.9 385.0Q698.6 383.5 699.2 385.0L696.5 392.3 M699.9 392.3L699.7 387.9Q701.2 386.5 702.7 388.0L702.9 392.4 M704.1 392.4L703.2 388.1Q704.1 386.7 705.6 388.2L706.6 392.5 M710.0 392.6L711.9 385.9Q713.7 384.5 714.6 386.0L712.7 392.7 M715.2 392.8L714.6 385.9Q715.6 384.4 716.9 386.0L717.5 392.9 M719.2 392.9L720.4 387.9Q721.9 386.5 722.6 388.0L721.4 393.1 M724.1 393.2L723.7 388.8Q724.7 387.4 726.0 389.1L726.4 393.4 M729.1 393.5L728.4 389.1Q729.3 387.7 730.6 389.4L731.3 393.9 M735.7 394.2L735.7 388.4Q737.1 387.2 738.5 389.0L738.5 394.8 M740.8 395.0L740.6 386.9Q741.8 385.7 743.0 387.6L743.1 395.6 M746.8 396.3L750.9 390.1Q752.7 389.1 752.8 390.7L748.7 396.9 M751.3 397.5L751.4 392.8Q752.7 391.7 753.9 393.7L753.7 398.4 M756.0 399.1L756.4 394.6Q757.7 393.5 758.7 395.5L758.4 400.0 M762.5 401.4L763.8 396.0Q765.4 395.1 766.3 397.1L765.0 402.5 M767.2 403.2L769.1 399.8Q771.0 399.0 771.5 400.9L769.5 404.3 M771.1 404.9L772.4 401.5Q773.8 400.5 774.2 402.4L772.9 405.9 M775.1 406.9L777.5 404.0Q779.7 403.5 780.0 405.4L777.7 408.3 M779.8 409.3L783.0 403.1Q784.7 402.4 785.1 404.3L781.8 410.5 M783.0 411.1L785.0 406.6Q786.7 405.9 787.3 408.1L785.3 412.7 M788.9 414.8L792.1 410.2Q794.1 409.9 794.3 412.0L791.1 416.5 M794.5 418.9L797.5 415.9Q799.6 415.8 799.4 417.8L796.4 420.7 M799.9 423.5L804.6 418.9Q806.4 418.8 806.1 420.7L801.4 425.2 M803.9 427.6L807.1 423.1Q808.9 422.9 808.8 425.3L805.5 429.8 M807.0 431.4L810.4 427.0Q812.2 426.9 812.0 429.3L808.6 433.7 M810.0 435.5L815.1 431.9Q817.0 432.0 816.4 433.9L811.3 437.6 M812.8 439.8L816.8 436.1Q818.5 436.0 817.9 437.9L813.8 441.7 M814.7 443.1L820.0 442.0Q822.1 442.7 821.1 444.2L815.8 445.3 M816.7 446.6L819.9 443.9Q821.5 443.8 820.8 445.8L817.5 448.6 M818.8 451.0L822.6 450.0Q824.4 450.7 823.4 452.2L819.6 453.2 M821.1 456.5L825.1 455.0Q826.7 455.5 825.6 457.1L821.6 458.6 M823.1 463.0L830.0 459.4Q831.6 459.9 830.5 461.9L823.6 465.4 M824.4 468.0L829.3 468.4Q831.0 469.5 829.6 470.4L824.7 470.0 M825.3 472.6L830.2 472.4Q831.8 473.6 830.5 475.0L825.6 475.2 M826.1 478.4L833.6 478.3Q835.2 479.7 833.8 481.1L826.4 481.2 M826.6 482.4L832.9 483.6Q834.5 485.2 833.1 486.2L826.8 485.0 M827.0 487.6L834.2 489.0Q835.8 490.4 834.3 491.2L827.1 489.8 M827.4 494.6L831.1 495.6Q832.6 497.1 831.1 497.8L827.4 496.7 M827.5 499.3L831.5 498.5Q833.0 499.6 831.6 501.2L827.5 502.0 M827.6 504.3L831.3 504.4Q832.8 505.8 831.3 507.1L827.6 507.0 M827.7 509.5L834.0 508.6Q835.5 509.6 834.1 511.0L827.7 511.8 M827.7 513.5L833.6 514.0Q835.1 515.2 833.6 516.3L827.7 515.8 M827.8 519.4L832.6 518.6Q834.1 519.6 832.6 521.0L827.8 521.8 M827.8 525.6L833.3 525.4Q834.7 526.4 833.2 527.5L827.8 527.6 M827.8 530.4L835.5 530.3Q837.0 531.5 835.5 532.8L827.8 532.8 M827.7 537.5L834.5 537.4Q836.0 538.4 834.5 539.5L827.7 539.7 M827.6 544.5L832.8 542.8Q834.3 543.5 832.8 545.1L827.6 546.8 M827.6 550.5L831.5 550.1Q833.0 551.2 831.6 552.6L827.8 553.0 M827.8 555.3L831.3 554.0Q832.9 554.9 831.6 556.9L828.0 558.2 M828.1 559.8L834.8 558.8Q836.5 559.6 835.1 560.9L828.4 561.8 M828.5 564.5L835.8 563.5Q837.6 564.7 836.5 566.2L829.1 567.2 M829.8 571.5L837.4 571.9Q839.4 573.3 838.1 574.6L830.6 574.1 M830.8 575.5L835.4 575.6Q837.4 576.8 836.2 577.9L831.6 577.9 M832.0 579.6L838.3 578.1Q840.2 578.7 839.2 580.1L832.8 581.6 M833.6 584.4L838.4 580.5Q840.1 580.5 839.5 582.5L834.7 586.5 M835.7 589.4L839.9 587.0Q841.9 587.0 841.3 588.5L837.2 591.0 M839.7 595.2L844.1 589.0Q846.1 588.5 846.2 590.5L841.8 596.7 M845.3 600.2L847.4 594.8Q848.8 593.9 849.2 595.8L847.0 601.1 M851.1 604.0L853.7 599.4Q855.5 598.6 855.8 600.3L853.2 604.9 M855.4 606.2L856.3 598.7Q857.8 597.7 858.9 599.7L858.0 607.2 M860.0 608.2L860.0 601.0Q861.4 599.9 862.7 601.9L862.7 609.0 M863.8 609.4L865.8 603.9Q867.7 602.9 868.6 604.7L866.6 610.3 M869.6 611.2L870.9 606.8Q872.7 605.7 873.7 607.5L872.4 611.9 M873.7 612.7L875.8 608.2Q877.7 606.9 878.3 608.5L876.3 612.9 M878.9 613.6L877.7 608.6Q878.4 607.1 879.9 608.7L881.1 613.7 M883.6 614.0L881.6 607.2Q882.6 605.7 884.4 607.3L886.4 614.0 M890.6 614.2L892.2 609.4Q894.1 607.9 895.1 609.5L893.4 614.3 M895.9 614.3L897.1 607.7Q898.5 606.2 899.3 607.7L898.1 614.3 M900.7 614.4L900.5 608.2Q901.7 606.7 903.0 608.2L903.3 614.4 M905.7 614.4L904.9 610.3Q906.0 608.8 907.6 610.3L908.3 614.4 M909.9 614.4L910.0 610.7Q911.3 609.2 912.3 610.7L912.2 614.4 M913.7 614.4L912.7 609.4Q913.7 607.9 915.3 609.4L916.3 614.4 M920.6 614.4L920.2 610.3Q921.5 608.8 923.0 610.3L923.4 614.4 M927.9 614.4L929.1 610.3Q930.7 608.8 931.4 610.3L930.1 614.4 M932.9 614.4L931.3 608.9Q931.9 607.4 933.4 608.9L935.1 614.4 M938.0 614.3L937.1 609.1Q937.9 607.6 939.1 609.1L940.0 614.3 M942.7 614.3L943.2 607.0Q944.5 605.5 945.7 607.0L945.3 614.3 M949.9 614.3L951.1 606.7Q952.4 605.2 953.3 606.7L952.1 614.3 M956.8 614.2L956.9 610.5Q958.1 609.0 959.3 610.5L959.2 614.2 M961.0 614.2L962.2 610.0Q963.6 608.5 964.3 610.0L963.1 614.2" fill="#ebe4df" stroke="#8e7f7a" stroke-width="0.75"/>
<path d="M -5.0 613.0 C 2.5 613.0 29.2 613.7 40.0 613.0 C 50.8 612.3 54.2 611.2 60.0 609.0 C 65.8 606.8 70.7 604.0 75.0 600.0 C 79.3 596.0 83.0 590.8 86.0 585.0 C 89.0 579.2 91.5 572.5 93.0 565.0 C 94.5 557.5 94.7 550.8 95.0 540.0 C 95.3 529.2 94.7 511.7 95.0 500.0 C 95.3 488.3 95.5 478.8 97.0 470.0 C 98.5 461.2 100.8 454.0 104.0 447.0 C 107.2 440.0 111.2 433.7 116.0 428.0 C 120.8 422.3 127.0 417.3 133.0 413.0 C 139.0 408.7 145.5 405.0 152.0 402.0 C 158.5 399.0 164.5 396.8 172.0 395.0 C 179.5 393.2 185.7 391.8 197.0 391.0 C 208.3 390.2 225.3 389.7 240.0 390.0 C 254.7 390.3 273.8 391.2 285.0 393.0 C 296.2 394.8 300.0 398.0 307.0 401.0 C 314.0 404.0 320.3 407.0 327.0 411.0 C 333.7 415.0 341.5 420.2 347.0 425.0 C 352.5 429.8 356.3 434.8 360.0 440.0 C 363.7 445.2 366.7 450.2 369.0 456.0 C 371.3 461.8 373.0 467.7 374.0 475.0 C 375.0 482.3 374.8 489.2 375.0 500.0 C 375.2 510.8 374.7 529.2 375.0 540.0 C 375.3 550.8 375.7 557.5 377.0 565.0 C 378.3 572.5 380.3 579.2 383.0 585.0 C 385.7 590.8 388.8 595.8 393.0 600.0 C 397.2 604.2 402.7 607.8 408.0 610.0 C 413.3 612.2 409.7 612.5 425.0 613.0 C 440.3 613.5 485.0 613.5 500.0 613.0 C 515.0 612.5 510.3 612.0 515.0 610.0 C 519.7 608.0 524.2 604.7 528.0 601.0 C 531.8 597.3 535.3 593.2 538.0 588.0 C 540.7 582.8 542.7 577.2 544.0 570.0 C 545.3 562.8 545.7 556.7 546.0 545.0 C 546.3 533.3 545.7 511.7 546.0 500.0 C 546.3 488.3 546.5 483.0 548.0 475.0 C 549.5 467.0 552.2 458.8 555.0 452.0 C 557.8 445.2 561.2 439.2 565.0 434.0 C 568.8 428.8 572.8 425.0 578.0 421.0 C 583.2 417.0 589.4 413.5 596.0 410.0 C 602.6 406.5 609.2 403.0 617.5 400.0 C 625.8 397.0 633.9 393.5 646.0 392.0 C 658.1 390.5 675.2 390.8 690.0 391.0 C 704.8 391.2 723.0 391.5 735.0 393.0 C 747.0 394.5 753.7 397.0 762.0 400.0 C 770.3 403.0 778.2 406.8 785.0 411.0 C 791.8 415.2 797.8 419.7 803.0 425.0 C 808.2 430.3 812.5 436.8 816.0 443.0 C 819.5 449.2 822.0 455.0 824.0 462.0 C 826.0 469.0 827.2 475.3 828.0 485.0 C 828.8 494.7 828.8 508.3 829.0 520.0 C 829.2 531.7 828.5 545.8 829.0 555.0 C 829.5 564.2 830.3 568.8 832.0 575.0 C 833.7 581.2 835.7 587.3 839.0 592.0 C 842.3 596.7 846.8 600.0 852.0 603.0 C 857.2 606.0 863.7 608.3 870.0 610.0 C 876.3 611.7 874.2 612.5 890.0 613.0 C 905.8 613.5 952.5 613.0 965.0 613.0" fill="none" stroke="#e2d5cd" stroke-width="2.2"/>
<g fill="#c5a89c"><ellipse cx="17.0" cy="637.0" rx="6.6" ry="5.2" transform="rotate(0.2 17.0 637.0)"/><ellipse cx="44.1" cy="636.7" rx="6.6" ry="5.2" transform="rotate(-1.7 44.1 636.7)"/><ellipse cx="68.7" cy="633.0" rx="6.6" ry="5.2" transform="rotate(-15.3 68.7 633.0)"/><ellipse cx="91.0" cy="623.3" rx="6.6" ry="5.2" transform="rotate(-28.7 91.0 623.3)"/><ellipse cx="108.7" cy="607.8" rx="6.6" ry="5.2" transform="rotate(-56.4 108.7 607.8)"/><ellipse cx="118.5" cy="585.3" rx="6.6" ry="5.2" transform="rotate(-76.7 118.5 585.3)"/><ellipse cx="122.6" cy="560.4" rx="6.6" ry="5.2" transform="rotate(-86.5 122.6 560.4)"/><ellipse cx="124.0" cy="505.6" rx="6.6" ry="5.2" transform="rotate(-88.0 124.0 505.6)"/><ellipse cx="126.0" cy="475.9" rx="6.6" ry="5.2" transform="rotate(-81.5 126.0 475.9)"/><ellipse cx="140.2" cy="443.3" rx="6.6" ry="5.2" transform="rotate(-54.5 140.2 443.3)"/><ellipse cx="196.3" cy="417.2" rx="6.6" ry="5.2" transform="rotate(-6.4 196.3 417.2)"/><ellipse cx="253.7" cy="416.3" rx="6.6" ry="5.2" transform="rotate(2.7 253.7 416.3)"/><ellipse cx="311.6" cy="431.6" rx="6.6" ry="5.2" transform="rotate(38.1 311.6 431.6)"/><ellipse cx="334.4" cy="454.6" rx="6.6" ry="5.2" transform="rotate(63.8 334.4 454.6)"/><ellipse cx="344.2" cy="488.8" rx="6.6" ry="5.2" transform="rotate(84.2 344.2 488.8)"/><ellipse cx="345.5" cy="517.1" rx="6.6" ry="5.2" transform="rotate(87.4 345.5 517.1)"/><ellipse cx="346.0" cy="544.5" rx="6.6" ry="5.2" transform="rotate(86.4 346.0 544.5)"/><ellipse cx="349.6" cy="570.4" rx="6.6" ry="5.2" transform="rotate(74.3 349.6 570.4)"/><ellipse cx="359.1" cy="593.7" rx="6.6" ry="5.2" transform="rotate(58.0 359.1 593.7)"/><ellipse cx="374.0" cy="613.3" rx="6.6" ry="5.2" transform="rotate(44.3 374.0 613.3)"/><ellipse cx="543.4" cy="617.7" rx="6.6" ry="5.2" transform="rotate(-40.3 543.4 617.7)"/><ellipse cx="559.5" cy="599.5" rx="6.6" ry="5.2" transform="rotate(-54.4 559.5 599.5)"/><ellipse cx="570.5" cy="577.2" rx="6.6" ry="5.2" transform="rotate(-70.0 570.5 577.2)"/><ellipse cx="576.0" cy="524.4" rx="6.6" ry="5.2" transform="rotate(-89.2 576.0 524.4)"/><ellipse cx="576.7" cy="495.8" rx="6.6" ry="5.2" transform="rotate(-86.6 576.7 495.8)"/><ellipse cx="581.4" cy="463.8" rx="6.6" ry="5.2" transform="rotate(-74.4 581.4 463.8)"/><ellipse cx="602.8" cy="435.9" rx="6.6" ry="5.2" transform="rotate(-43.1 602.8 435.9)"/><ellipse cx="629.2" cy="422.7" rx="6.6" ry="5.2" transform="rotate(-16.7 629.2 422.7)"/><ellipse cx="660.2" cy="416.7" rx="6.6" ry="5.2" transform="rotate(-4.6 660.2 416.7)"/><ellipse cx="688.4" cy="416.2" rx="6.6" ry="5.2" transform="rotate(-0.0 688.4 416.2)"/><ellipse cx="717.0" cy="416.8" rx="6.6" ry="5.2" transform="rotate(3.5 717.0 416.8)"/><ellipse cx="747.4" cy="422.2" rx="6.6" ry="5.2" transform="rotate(20.1 747.4 422.2)"/><ellipse cx="773.8" cy="437.7" rx="6.6" ry="5.2" transform="rotate(45.9 773.8 437.7)"/><ellipse cx="792.5" cy="467.8" rx="6.6" ry="5.2" transform="rotate(74.7 792.5 467.8)"/><ellipse cx="797.2" cy="499.6" rx="6.6" ry="5.2" transform="rotate(84.9 797.2 499.6)"/><ellipse cx="798.3" cy="528.2" rx="6.6" ry="5.2" transform="rotate(90.4 798.3 528.2)"/><ellipse cx="798.0" cy="555.3" rx="6.6" ry="5.2" transform="rotate(88.0 798.0 555.3)"/><ellipse cx="802.1" cy="580.5" rx="6.6" ry="5.2" transform="rotate(70.9 802.1 580.5)"/><ellipse cx="813.7" cy="602.1" rx="6.6" ry="5.2" transform="rotate(54.0 813.7 602.1)"/><ellipse cx="829.8" cy="619.0" rx="6.6" ry="5.2" transform="rotate(36.9 829.8 619.0)"/><ellipse cx="876.0" cy="636.3" rx="6.6" ry="5.2" transform="rotate(4.1 876.0 636.3)"/><ellipse cx="930.8" cy="636.9" rx="6.6" ry="5.2" transform="rotate(-0.1 930.8 636.9)"/><ellipse cx="422.5" cy="637" rx="6.6" ry="5.2"/></g>
<g transform="translate(183.0 432.0) rotate(-19.3)"><path d="M -13 0 Q -18.5 0 -18.2 -6 L -11.5 -39.4 Q -11 -42.4 -8 -42.4 L 8 -42.4 Q 11 -42.4 11.5 -39.4 L 18.2 -6 Q 18.5 0 13 0 Z" fill="#f5b7c8"/><g fill="#e789a5"><circle cx="3.2" cy="-26.6" r="1.5"/><circle cx="0.4" cy="-30.4" r="1.9"/><circle cx="-1.8" cy="-25.9" r="1.9"/><circle cx="-8.7" cy="-28.6" r="1.9"/><circle cx="5.1" cy="-19.2" r="1.7"/><circle cx="-2.5" cy="-28.0" r="1.7"/><circle cx="-9.3" cy="-20.8" r="1.9"/><circle cx="9.0" cy="-35.0" r="1.5"/><circle cx="-7.8" cy="-25.9" r="2.1"/><circle cx="9.8" cy="-20.5" r="1.5"/><circle cx="2.4" cy="-37.4" r="1.9"/><circle cx="8.7" cy="-25.1" r="2.2"/><circle cx="8.0" cy="-32.7" r="2.1"/><circle cx="0.1" cy="-36.7" r="1.5"/><circle cx="7.5" cy="-20.9" r="1.5"/><circle cx="7.5" cy="-35.3" r="1.5"/><circle cx="1.9" cy="-30.9" r="1.6"/><circle cx="9.2" cy="-21.9" r="2.2"/><circle cx="0.8" cy="-22.1" r="1.7"/><circle cx="-9.9" cy="-28.1" r="1.3"/><circle cx="-6.0" cy="-19.9" r="2.1"/><circle cx="-2.3" cy="-23.1" r="1.8"/><circle cx="-6.6" cy="-27.5" r="1.3"/><circle cx="2.2" cy="-36.2" r="1.4"/></g><ellipse cx="0" cy="-11.4" rx="11" ry="8.6" fill="#f29db5"/><ellipse cx="0" cy="-11.4" rx="9.2" ry="7.2" fill="#e6517a"/><path d="M -13 0 Q -18.5 0 -18.2 -6 L -11.5 -39.4 Q -11 -42.4 -8 -42.4 L 8 -42.4 Q 11 -42.4 11.5 -39.4 L 18.2 -6 Q 18.5 0 13 0 Z" fill="none" stroke="#b3607d" stroke-width="0.9" stroke-dasharray="2.6 1.4"/></g>
<g transform="translate(227.0 427.0) rotate(-1.4)"><path d="M -13 0 Q -18.5 0 -18.2 -6 L -11.5 -38.0 Q -11 -41.0 -8 -41.0 L 8 -41.0 Q 11 -41.0 11.5 -38.0 L 18.2 -6 Q 18.5 0 13 0 Z" fill="#f5b7c8"/><g fill="#e789a5"><circle cx="4.5" cy="-18.9" r="1.3"/><circle cx="2.6" cy="-34.4" r="1.3"/><circle cx="-8.0" cy="-35.8" r="2.1"/><circle cx="-6.4" cy="-22.9" r="2.2"/><circle cx="3.3" cy="-27.1" r="2.1"/><circle cx="4.5" cy="-23.0" r="1.6"/><circle cx="-5.5" cy="-32.4" r="1.3"/><circle cx="9.2" cy="-19.4" r="2.0"/><circle cx="4.4" cy="-35.4" r="1.9"/><circle cx="-7.3" cy="-28.2" r="2.0"/><circle cx="-4.3" cy="-25.0" r="1.6"/><circle cx="-2.8" cy="-32.2" r="2.1"/><circle cx="4.5" cy="-36.1" r="2.1"/><circle cx="2.2" cy="-22.7" r="1.7"/><circle cx="4.6" cy="-31.7" r="2.0"/><circle cx="0.3" cy="-36.4" r="1.4"/><circle cx="-8.9" cy="-28.3" r="1.8"/><circle cx="6.9" cy="-23.8" r="1.8"/><circle cx="-1.2" cy="-31.7" r="1.8"/><circle cx="4.7" cy="-31.7" r="1.3"/><circle cx="-7.7" cy="-30.6" r="1.9"/><circle cx="10.1" cy="-21.7" r="1.8"/><circle cx="0.3" cy="-19.2" r="1.8"/><circle cx="5.7" cy="-34.1" r="2.1"/></g><ellipse cx="0" cy="-11.1" rx="11" ry="8.6" fill="#f29db5"/><ellipse cx="0" cy="-11.1" rx="9.2" ry="7.2" fill="#e6517a"/><path d="M -13 0 Q -18.5 0 -18.2 -6 L -11.5 -38.0 Q -11 -41.0 -8 -41.0 L 8 -41.0 Q 11 -41.0 11.5 -38.0 L 18.2 -6 Q 18.5 0 13 0 Z" fill="none" stroke="#b3607d" stroke-width="0.9" stroke-dasharray="2.6 1.4"/></g>
<g transform="translate(270.0 428.0) rotate(7.1)"><path d="M -13 0 Q -18.5 0 -18.2 -6 L -11.5 -37.3 Q -11 -40.3 -8 -40.3 L 8 -40.3 Q 11 -40.3 11.5 -37.3 L 18.2 -6 Q 18.5 0 13 0 Z" fill="#f5b7c8"/><g fill="#e789a5"><circle cx="-6.2" cy="-32.1" r="2.1"/><circle cx="-0.2" cy="-22.4" r="2.2"/><circle cx="-8.0" cy="-26.1" r="1.6"/><circle cx="7.6" cy="-34.6" r="2.1"/><circle cx="-1.7" cy="-22.8" r="1.9"/><circle cx="-3.8" cy="-29.6" r="1.7"/><circle cx="-6.6" cy="-26.4" r="2.2"/><circle cx="9.1" cy="-24.8" r="1.4"/><circle cx="3.9" cy="-25.5" r="1.8"/><circle cx="1.4" cy="-35.7" r="1.8"/><circle cx="-1.1" cy="-20.5" r="1.8"/><circle cx="-0.7" cy="-30.4" r="1.9"/><circle cx="-5.0" cy="-31.6" r="1.6"/><circle cx="4.1" cy="-24.6" r="1.8"/><circle cx="4.7" cy="-31.5" r="2.0"/><circle cx="4.6" cy="-25.1" r="2.2"/><circle cx="2.2" cy="-23.2" r="1.6"/><circle cx="8.4" cy="-32.0" r="1.5"/><circle cx="11.1" cy="-19.0" r="1.4"/><circle cx="-6.3" cy="-24.4" r="1.4"/><circle cx="-3.6" cy="-33.6" r="1.6"/><circle cx="-7.3" cy="-31.3" r="2.1"/><circle cx="7.2" cy="-31.2" r="1.7"/><circle cx="6.1" cy="-36.1" r="1.7"/></g><ellipse cx="0" cy="-10.9" rx="11" ry="8.6" fill="#f29db5"/><ellipse cx="0" cy="-10.9" rx="9.2" ry="7.2" fill="#e6517a"/><path d="M -13 0 Q -18.5 0 -18.2 -6 L -11.5 -37.3 Q -11 -40.3 -8 -40.3 L 8 -40.3 Q 11 -40.3 11.5 -37.3 L 18.2 -6 Q 18.5 0 13 0 Z" fill="none" stroke="#b3607d" stroke-width="0.9" stroke-dasharray="2.6 1.4"/></g>
<g transform="translate(398.7 645.0) rotate(11.4)"><path d="M -13 0 Q -18.5 0 -18.2 -6 L -11.5 -38.8 Q -11 -41.8 -8 -41.8 L 8 -41.8 Q 11 -41.8 11.5 -38.8 L 18.2 -6 Q 18.5 0 13 0 Z" fill="#f5b7c8"/><g fill="#e789a5"><circle cx="8.8" cy="-33.6" r="1.6"/><circle cx="-4.2" cy="-37.4" r="2.0"/><circle cx="-4.4" cy="-37.7" r="2.1"/><circle cx="1.8" cy="-24.5" r="1.9"/><circle cx="3.7" cy="-21.8" r="1.9"/><circle cx="3.1" cy="-21.2" r="1.8"/><circle cx="-5.9" cy="-33.5" r="1.4"/><circle cx="-4.7" cy="-29.6" r="1.9"/><circle cx="-5.7" cy="-20.8" r="1.7"/><circle cx="-7.2" cy="-24.3" r="2.1"/><circle cx="-9.5" cy="-28.7" r="2.1"/><circle cx="3.2" cy="-28.0" r="2.1"/><circle cx="-3.8" cy="-20.8" r="1.3"/><circle cx="8.9" cy="-22.0" r="1.4"/><circle cx="-5.2" cy="-33.1" r="1.9"/><circle cx="-6.7" cy="-19.7" r="1.6"/><circle cx="-0.9" cy="-21.7" r="1.5"/><circle cx="-9.6" cy="-28.8" r="2.0"/><circle cx="-3.0" cy="-30.8" r="2.0"/><circle cx="9.6" cy="-29.1" r="1.5"/><circle cx="8.6" cy="-28.1" r="2.0"/><circle cx="2.8" cy="-26.2" r="1.5"/><circle cx="-8.4" cy="-30.6" r="1.4"/><circle cx="2.8" cy="-20.4" r="1.9"/></g><ellipse cx="0" cy="-11.3" rx="11" ry="8.6" fill="#f29db5"/><ellipse cx="0" cy="-11.3" rx="9.2" ry="7.2" fill="#e6517a"/><path d="M -13 0 Q -18.5 0 -18.2 -6 L -11.5 -38.8 Q -11 -41.8 -8 -41.8 L 8 -41.8 Q 11 -41.8 11.5 -38.8 L 18.2 -6 Q 18.5 0 13 0 Z" fill="none" stroke="#b3607d" stroke-width="0.9" stroke-dasharray="2.6 1.4"/></g>
<g transform="translate(510.5 645.0) rotate(-14.4)"><path d="M -13 0 Q -18.5 0 -18.2 -6 L -11.5 -39.3 Q -11 -42.3 -8 -42.3 L 8 -42.3 Q 11 -42.3 11.5 -39.3 L 18.2 -6 Q 18.5 0 13 0 Z" fill="#f5b7c8"/><g fill="#e789a5"><circle cx="-7.9" cy="-27.1" r="1.6"/><circle cx="8.8" cy="-30.6" r="2.2"/><circle cx="10.4" cy="-19.2" r="1.7"/><circle cx="7.7" cy="-35.2" r="1.4"/><circle cx="-6.6" cy="-22.9" r="1.9"/><circle cx="6.6" cy="-24.4" r="1.4"/><circle cx="6.9" cy="-25.5" r="2.0"/><circle cx="9.6" cy="-30.4" r="2.0"/><circle cx="5.8" cy="-25.8" r="1.7"/><circle cx="-5.8" cy="-23.2" r="1.9"/><circle cx="10.1" cy="-25.1" r="1.9"/><circle cx="6.0" cy="-29.0" r="2.0"/><circle cx="2.9" cy="-31.4" r="1.6"/><circle cx="2.4" cy="-29.0" r="1.4"/><circle cx="-7.7" cy="-21.0" r="1.6"/><circle cx="-8.0" cy="-30.9" r="1.8"/><circle cx="8.4" cy="-32.1" r="1.8"/><circle cx="1.6" cy="-31.7" r="1.9"/><circle cx="-7.8" cy="-34.3" r="1.6"/><circle cx="1.6" cy="-26.6" r="2.1"/><circle cx="-0.9" cy="-34.7" r="2.0"/><circle cx="-1.8" cy="-34.3" r="1.8"/><circle cx="3.8" cy="-26.6" r="2.2"/><circle cx="7.1" cy="-36.6" r="1.8"/></g><ellipse cx="0" cy="-11.4" rx="11" ry="8.6" fill="#f29db5"/><ellipse cx="0" cy="-11.4" rx="9.2" ry="7.2" fill="#e6517a"/><path d="M -13 0 Q -18.5 0 -18.2 -6 L -11.5 -39.3 Q -11 -42.3 -8 -42.3 L 8 -42.3 Q 11 -42.3 11.5 -39.3 L 18.2 -6 Q 18.5 0 13 0 Z" fill="none" stroke="#b3607d" stroke-width="0.9" stroke-dasharray="2.6 1.4"/></g>
<g transform="translate(846.0 641.0) rotate(27.8)"><path d="M -13 0 Q -18.5 0 -18.2 -6 L -11.5 -39.9 Q -11 -42.9 -8 -42.9 L 8 -42.9 Q 11 -42.9 11.5 -39.9 L 18.2 -6 Q 18.5 0 13 0 Z" fill="#f5b7c8"/><g fill="#e789a5"><circle cx="-4.2" cy="-26.5" r="1.7"/><circle cx="-7.7" cy="-34.8" r="2.1"/><circle cx="-8.0" cy="-25.8" r="1.4"/><circle cx="6.3" cy="-30.7" r="1.7"/><circle cx="-0.3" cy="-28.0" r="2.1"/><circle cx="-5.3" cy="-25.2" r="1.4"/><circle cx="4.8" cy="-27.2" r="1.4"/><circle cx="3.7" cy="-32.7" r="1.7"/><circle cx="-0.6" cy="-33.1" r="1.7"/><circle cx="4.0" cy="-19.3" r="1.5"/><circle cx="2.8" cy="-31.9" r="1.3"/><circle cx="4.1" cy="-38.0" r="2.2"/><circle cx="-8.8" cy="-23.1" r="1.7"/><circle cx="-7.6" cy="-24.1" r="1.5"/><circle cx="-7.2" cy="-30.8" r="1.4"/><circle cx="-3.3" cy="-26.0" r="2.0"/><circle cx="8.3" cy="-28.1" r="1.6"/><circle cx="-4.7" cy="-32.2" r="1.3"/><circle cx="-2.7" cy="-33.3" r="1.7"/><circle cx="9.2" cy="-32.4" r="2.1"/><circle cx="-5.6" cy="-32.2" r="1.7"/><circle cx="-5.5" cy="-36.6" r="1.9"/><circle cx="8.4" cy="-36.4" r="1.4"/><circle cx="-2.3" cy="-19.4" r="1.8"/></g><ellipse cx="0" cy="-11.6" rx="11" ry="8.6" fill="#f29db5"/><ellipse cx="0" cy="-11.6" rx="9.2" ry="7.2" fill="#e6517a"/><path d="M -13 0 Q -18.5 0 -18.2 -6 L -11.5 -39.9 Q -11 -42.9 -8 -42.9 L 8 -42.9 Q 11 -42.9 11.5 -39.9 L 18.2 -6 Q 18.5 0 13 0 Z" fill="none" stroke="#b3607d" stroke-width="0.9" stroke-dasharray="2.6 1.4"/></g>
<g transform="translate(902.0 646.0) rotate(8.5)"><path d="M -13 0 Q -18.5 0 -18.2 -6 L -11.5 -37.4 Q -11 -40.4 -8 -40.4 L 8 -40.4 Q 11 -40.4 11.5 -37.4 L 18.2 -6 Q 18.5 0 13 0 Z" fill="#f5b7c8"/><g fill="#e789a5"><circle cx="1.4" cy="-29.0" r="1.7"/><circle cx="-8.1" cy="-34.5" r="2.0"/><circle cx="5.3" cy="-27.8" r="1.4"/><circle cx="0.9" cy="-27.3" r="1.6"/><circle cx="3.1" cy="-33.8" r="1.9"/><circle cx="-9.1" cy="-20.5" r="1.3"/><circle cx="2.6" cy="-24.9" r="1.5"/><circle cx="7.7" cy="-24.3" r="1.7"/><circle cx="7.6" cy="-34.6" r="1.3"/><circle cx="-7.9" cy="-20.5" r="1.6"/><circle cx="7.6" cy="-23.5" r="1.5"/><circle cx="-8.3" cy="-35.8" r="1.8"/><circle cx="8.4" cy="-25.9" r="1.7"/><circle cx="6.5" cy="-26.9" r="2.0"/><circle cx="3.8" cy="-28.8" r="1.7"/><circle cx="3.2" cy="-35.2" r="1.8"/><circle cx="3.6" cy="-18.3" r="1.4"/><circle cx="1.0" cy="-22.4" r="1.4"/><circle cx="7.8" cy="-27.8" r="1.9"/><circle cx="-9.6" cy="-28.7" r="1.9"/><circle cx="8.1" cy="-18.4" r="1.5"/><circle cx="-0.5" cy="-34.2" r="1.5"/><circle cx="-1.0" cy="-26.1" r="2.0"/><circle cx="-3.0" cy="-19.6" r="2.0"/></g><ellipse cx="0" cy="-10.9" rx="11" ry="8.6" fill="#f29db5"/><ellipse cx="0" cy="-10.9" rx="9.2" ry="7.2" fill="#e6517a"/><path d="M -13 0 Q -18.5 0 -18.2 -6 L -11.5 -37.4 Q -11 -40.4 -8 -40.4 L 8 -40.4 Q 11 -40.4 11.5 -37.4 L 18.2 -6 Q 18.5 0 13 0 Z" fill="none" stroke="#b3607d" stroke-width="0.9" stroke-dasharray="2.6 1.4"/></g>
<g transform="translate(954.0 646.0) rotate(1.5)"><path d="M -13 0 Q -18.5 0 -18.2 -6 L -11.5 -36.0 Q -11 -39.0 -8 -39.0 L 8 -39.0 Q 11 -39.0 11.5 -36.0 L 18.2 -6 Q 18.5 0 13 0 Z" fill="#f5b7c8"/><g fill="#e789a5"><circle cx="-7.4" cy="-22.9" r="2.0"/><circle cx="1.1" cy="-29.9" r="1.7"/><circle cx="8.1" cy="-23.3" r="2.1"/><circle cx="-8.2" cy="-34.1" r="1.4"/><circle cx="4.1" cy="-19.6" r="1.9"/><circle cx="-3.6" cy="-28.2" r="1.8"/><circle cx="7.5" cy="-18.3" r="1.8"/><circle cx="8.5" cy="-29.5" r="2.0"/><circle cx="-6.6" cy="-26.8" r="2.2"/><circle cx="8.1" cy="-33.0" r="1.4"/><circle cx="-0.5" cy="-21.0" r="2.0"/><circle cx="-4.5" cy="-27.1" r="2.0"/><circle cx="-4.2" cy="-29.2" r="1.9"/><circle cx="6.3" cy="-23.6" r="1.8"/><circle cx="4.9" cy="-19.8" r="1.3"/><circle cx="6.0" cy="-32.4" r="1.8"/><circle cx="-5.7" cy="-18.0" r="1.6"/><circle cx="5.2" cy="-28.4" r="1.5"/><circle cx="3.7" cy="-27.1" r="1.6"/><circle cx="-6.4" cy="-30.3" r="2.1"/><circle cx="6.0" cy="-21.7" r="1.6"/><circle cx="7.0" cy="-32.6" r="2.2"/><circle cx="8.6" cy="-32.4" r="2.0"/><circle cx="5.6" cy="-25.4" r="1.7"/></g><ellipse cx="0" cy="-10.5" rx="11" ry="8.6" fill="#f29db5"/><ellipse cx="0" cy="-10.5" rx="9.2" ry="7.2" fill="#e6517a"/><path d="M -13 0 Q -18.5 0 -18.2 -6 L -11.5 -36.0 Q -11 -39.0 -8 -39.0 L 8 -39.0 Q 11 -39.0 11.5 -36.0 L 18.2 -6 Q 18.5 0 13 0 Z" fill="none" stroke="#b3607d" stroke-width="0.9" stroke-dasharray="2.6 1.4"/></g>
<g transform="translate(146.0 452.0) rotate(-64.4)"><path d="M -6 0 L 6 0 L 9.2 -18.0 L 9.8 -43.0 L 7 -51.0 L -7 -51.0 L -9.8 -43.0 L -9.2 -18.0 Z" fill="#55b160" stroke="#2d7d39" stroke-width="1.2" stroke-linejoin="round"/><path d="M -9.4 -22.4 L 9.4 -22.4 L 9.8 -43.0 L 7 -51.0 L -7 -51.0 L -9.8 -43.0 Z" fill="#e2f5d4"/><clipPath id="gc1609"><path d="M -9.4 -22.4 L 9.4 -22.4 L 9.8 -43.0 L 7 -51.0 L -7 -51.0 L -9.8 -43.0 Z"/></clipPath><path d="M-5.3 -22.4L-4.2 -25.8 M-2.1 -22.4L-3.3 -25.6 M1.0 -22.4L1.5 -24.6 M3.9 -22.4L4.4 -26.4 M8.1 -22.4L7.1 -25.4 M-8.6 -25.0L-4.2 -25.8 M-4.2 -25.8L-3.3 -25.6 M-4.2 -25.8L-6.4 -28.6 M-3.3 -25.6L1.5 -24.6 M-3.3 -25.6L-2.1 -28.9 M1.5 -24.6L4.4 -26.4 M1.5 -24.6L1.8 -28.8 M4.4 -26.4L7.1 -25.4 M4.4 -26.4L4.2 -29.0 M7.1 -25.4L9.9 -25.4 M7.1 -25.4L6.7 -29.3 M-8.6 -28.7L-6.4 -28.6 M-6.4 -28.6L-2.1 -28.9 M-6.4 -28.6L-5.2 -31.7 M-2.1 -28.9L1.8 -28.8 M-2.1 -28.9L-1.5 -30.7 M1.8 -28.8L4.2 -29.0 M1.8 -28.8L0.4 -30.6 M4.2 -29.0L6.7 -29.3 M4.2 -29.0L4.2 -30.7 M6.7 -29.3L9.9 -27.8 M6.7 -29.3L7.1 -31.5 M-8.6 -31.9L-5.2 -31.7 M-5.2 -31.7L-1.5 -30.7 M-5.2 -31.7L-6.5 -34.9 M-1.5 -30.7L0.4 -30.6 M-1.5 -30.7L-1.9 -35.2 M0.4 -30.6L4.2 -30.7 M0.4 -30.6L0.3 -33.7 M4.2 -30.7L7.1 -31.5 M4.2 -30.7L4.4 -34.3 M7.1 -31.5L9.9 -32.3 M7.1 -31.5L6.7 -33.6 M-8.6 -34.8L-6.5 -34.9 M-6.5 -34.9L-1.9 -35.2 M-6.5 -34.9L-5.5 -37.2 M-1.9 -35.2L0.3 -33.7 M-1.9 -35.2L-1.9 -38.2 M0.3 -33.7L4.4 -34.3 M0.3 -33.7L1.8 -37.8 M4.4 -34.3L6.7 -33.6 M4.4 -34.3L5.4 -37.7 M6.7 -33.6L9.9 -34.9 M6.7 -33.6L6.3 -38.4 M-8.6 -38.2L-5.5 -37.2 M-5.5 -37.2L-1.9 -38.2 M-5.5 -37.2L-5.4 -39.7 M-1.9 -38.2L1.8 -37.8 M-1.9 -38.2L-1.3 -39.7 M1.8 -37.8L5.4 -37.7 M1.8 -37.8L1.3 -39.6 M5.4 -37.7L6.3 -38.4 M5.4 -37.7L4.7 -41.3 M6.3 -38.4L9.9 -37.7 M6.3 -38.4L7.0 -41.0 M-8.6 -40.0L-5.4 -39.7 M-5.4 -39.7L-1.3 -39.7 M-5.4 -39.7L-5.4 -44.1 M-1.3 -39.7L1.3 -39.6 M-1.3 -39.7L-1.4 -43.7 M1.3 -39.6L4.7 -41.3 M1.3 -39.6L0.4 -43.0 M4.7 -41.3L7.0 -41.0 M4.7 -41.3L3.4 -42.6 M7.0 -41.0L9.9 -41.3 M7.0 -41.0L8.5 -44.3 M-8.6 -42.6L-5.4 -44.1 M-5.4 -44.1L-1.4 -43.7 M-5.4 -44.1L-4.4 -46.9 M-1.4 -43.7L0.4 -43.0 M-1.4 -43.7L-2.2 -46.0 M0.4 -43.0L3.4 -42.6 M0.4 -43.0L1.6 -46.5 M3.4 -42.6L8.5 -44.3 M3.4 -42.6L3.2 -46.8 M8.5 -44.3L9.9 -43.3 M8.5 -44.3L6.2 -47.0 M-8.6 -47.4L-4.4 -46.9 M-4.4 -46.9L-2.2 -46.0 M-4.4 -46.9L-5.5 -49.1 M-2.2 -46.0L1.6 -46.5 M-2.2 -46.0L-2.3 -49.7 M1.6 -46.5L3.2 -46.8 M1.6 -46.5L0.7 -49.7 M3.2 -46.8L6.2 -47.0 M3.2 -46.8L3.9 -49.6 M6.2 -47.0L9.9 -45.9 M6.2 -47.0L8.1 -48.6 M-8.6 -49.3L-5.5 -49.1 M-5.5 -49.1L-2.3 -49.7 M-5.5 -49.1L-5.5 -51.0 M-2.3 -49.7L0.7 -49.7 M-2.3 -49.7L-1.2 -51.0 M0.7 -49.7L3.9 -49.6 M0.7 -49.7L1.7 -51.0 M3.9 -49.6L8.1 -48.6 M3.9 -49.6L3.4 -51.0 M8.1 -48.6L9.9 -48.7 M8.1 -48.6L8.2 -51.0" stroke="#45a150" stroke-width="0.75" fill="none" clip-path="url(#gc1609)"/><path d="M6.1 -14.1l-2.1 0.8 M-0.7 -20.6l-3.6 0.8 M1.8 -17.6l1.8 3.2 M-0.3 -16.1l2.2 1.1 M-6.2 -15.4l-0.4 2.3 M5.2 -19.2l0.6 2.2 M-3.2 -14.4l1.2 2.0 M-0.1 -18.8l-2.1 0.7 M6.7 -21.0l-3.2 1.1 M-4.0 -17.4l1.6 2.0 M-4.2 -18.4l-4.0 0.1 M6.0 -20.6l2.3 3.0 M-6.2 -15.3l2.4 3.2 M-6.8 -14.6l1.1 2.0 M-7.0 -14.4l-0.2 2.4 M-0.9 -13.7l2.4 2.0 M-5.1 -19.9l-2.6 2.3 M-4.2 -20.8l3.1 0.9" stroke="#2e8a3a" stroke-width="0.8" fill="none" stroke-linecap="round" opacity="0.7"/><path d="M -6 0 L 6 0 L 9.2 -18.0 L 9.8 -43.0 L 7 -51.0 L -7 -51.0 L -9.8 -43.0 L -9.2 -18.0 Z" fill="none" stroke="#2b7636" stroke-width="1.2" stroke-linejoin="round"/><ellipse cx="0" cy="-7" rx="4.4" ry="6" fill="#2b8a3a"/></g>
<g transform="translate(136.0 502.0) rotate(-91.0)"><path d="M -6 0 L 6 0 L 9.2 -18.0 L 9.8 -47.0 L 7 -55.0 L -7 -55.0 L -9.8 -47.0 L -9.2 -18.0 Z" fill="#55b160" stroke="#2d7d39" stroke-width="1.2" stroke-linejoin="round"/><path d="M -9.4 -24.2 L 9.4 -24.2 L 9.8 -47.0 L 7 -55.0 L -7 -55.0 L -9.8 -47.0 Z" fill="#e2f5d4"/><clipPath id="gc1755"><path d="M -9.4 -24.2 L 9.4 -24.2 L 9.8 -47.0 L 7 -55.0 L -7 -55.0 L -9.8 -47.0 Z"/></clipPath><path d="M-5.4 -24.2L-5.2 -27.8 M-2.7 -24.2L-3.2 -26.7 M0.3 -24.2L0.8 -26.8 M4.5 -24.2L3.1 -26.6 M7.9 -24.2L7.0 -26.5 M-8.6 -26.6L-5.2 -27.8 M-5.2 -27.8L-3.2 -26.7 M-5.2 -27.8L-6.6 -29.4 M-3.2 -26.7L0.8 -26.8 M-3.2 -26.7L-2.3 -29.5 M0.8 -26.8L3.1 -26.6 M0.8 -26.8L0.4 -30.8 M3.1 -26.6L7.0 -26.5 M3.1 -26.6L5.0 -30.5 M7.0 -26.5L9.9 -26.5 M7.0 -26.5L6.6 -30.5 M-8.6 -30.2L-6.6 -29.4 M-6.6 -29.4L-2.3 -29.5 M-6.6 -29.4L-5.4 -33.3 M-2.3 -29.5L0.4 -30.8 M-2.3 -29.5L-2.2 -34.0 M0.4 -30.8L5.0 -30.5 M0.4 -30.8L1.5 -32.6 M5.0 -30.5L6.6 -30.5 M5.0 -30.5L5.1 -33.6 M6.6 -30.5L9.9 -30.0 M6.6 -30.5L7.9 -33.4 M-8.6 -34.2L-5.4 -33.3 M-5.4 -33.3L-2.2 -34.0 M-5.4 -33.3L-4.5 -35.3 M-2.2 -34.0L1.5 -32.6 M-2.2 -34.0L-2.2 -36.2 M1.5 -32.6L5.1 -33.6 M1.5 -32.6L1.1 -36.1 M5.1 -33.6L7.9 -33.4 M5.1 -33.6L3.0 -35.3 M7.9 -33.4L9.9 -32.7 M7.9 -33.4L6.7 -36.8 M-8.6 -37.1L-4.5 -35.3 M-4.5 -35.3L-2.2 -36.2 M-4.5 -35.3L-4.6 -40.1 M-2.2 -36.2L1.1 -36.1 M-2.2 -36.2L-3.2 -38.8 M1.1 -36.1L3.0 -35.3 M1.1 -36.1L0.3 -40.2 M3.0 -35.3L6.7 -36.8 M3.0 -35.3L4.4 -39.1 M6.7 -36.8L9.9 -37.0 M6.7 -36.8L7.5 -38.8 M-8.6 -39.7L-4.6 -40.1 M-4.6 -40.1L-3.2 -38.8 M-4.6 -40.1L-4.9 -43.1 M-3.2 -38.8L0.3 -40.2 M-3.2 -38.8L-3.1 -42.2 M0.3 -40.2L4.4 -39.1 M0.3 -40.2L1.0 -42.6 M4.4 -39.1L7.5 -38.8 M4.4 -39.1L3.3 -42.4 M7.5 -38.8L9.9 -40.0 M7.5 -38.8L6.5 -42.0 M-8.6 -41.5L-4.9 -43.1 M-4.9 -43.1L-3.1 -42.2 M-4.9 -43.1L-5.2 -44.7 M-3.1 -42.2L1.0 -42.6 M-3.1 -42.2L-3.0 -44.6 M1.0 -42.6L3.3 -42.4 M1.0 -42.6L2.1 -45.4 M3.3 -42.4L6.5 -42.0 M3.3 -42.4L4.0 -44.5 M6.5 -42.0L9.9 -41.5 M6.5 -42.0L7.5 -45.4 M-8.6 -45.9L-5.2 -44.7 M-5.2 -44.7L-3.0 -44.6 M-5.2 -44.7L-5.8 -48.7 M-3.0 -44.6L2.1 -45.4 M-3.0 -44.6L-2.6 -48.3 M2.1 -45.4L4.0 -44.5 M2.1 -45.4L2.2 -47.6 M4.0 -44.5L7.5 -45.4 M4.0 -44.5L5.2 -47.6 M7.5 -45.4L9.9 -44.3 M7.5 -45.4L8.2 -49.1 M-8.6 -47.7L-5.8 -48.7 M-5.8 -48.7L-2.6 -48.3 M-5.8 -48.7L-4.4 -51.7 M-2.6 -48.3L2.2 -47.6 M-2.6 -48.3L-2.4 -50.9 M2.2 -47.6L5.2 -47.6 M2.2 -47.6L0.7 -51.1 M5.2 -47.6L8.2 -49.1 M5.2 -47.6L3.2 -51.3 M8.2 -49.1L9.9 -48.2 M8.2 -49.1L7.4 -52.2 M-8.6 -50.3L-4.4 -51.7 M-4.4 -51.7L-2.4 -50.9 M-4.4 -51.7L-4.7 -53.3 M-2.4 -50.9L0.7 -51.1 M-2.4 -50.9L-1.9 -53.6 M0.7 -51.1L3.2 -51.3 M0.7 -51.1L1.9 -53.4 M3.2 -51.3L7.4 -52.2 M3.2 -51.3L3.1 -53.9 M7.4 -52.2L9.9 -51.9 M7.4 -52.2L6.8 -53.8 M-8.6 -53.3L-4.7 -53.3 M-4.7 -53.3L-1.9 -53.6 M-4.7 -53.3L-5.3 -55.0 M-1.9 -53.6L1.9 -53.4 M-1.9 -53.6L-1.2 -55.0 M1.9 -53.4L3.1 -53.9 M1.9 -53.4L1.3 -55.0 M3.1 -53.9L6.8 -53.8 M3.1 -53.9L3.6 -55.0 M6.8 -53.8L9.9 -54.7 M6.8 -53.8L7.4 -55.0" stroke="#45a150" stroke-width="0.75" fill="none" clip-path="url(#gc1755)"/><path d="M-3.7 -22.8l2.5 0.9 M-4.7 -22.6l-3.8 0.5 M5.6 -22.3l-1.1 3.7 M-0.8 -18.0l-3.6 1.4 M1.1 -20.4l-2.4 2.6 M-3.0 -18.6l-1.4 2.0 M-1.6 -17.6l1.5 3.5 M-2.7 -18.3l-1.7 1.1 M-2.3 -21.3l-0.6 3.9 M-1.4 -13.8l3.4 1.9 M-2.5 -19.9l2.5 2.8 M-4.0 -22.6l3.1 0.2 M1.5 -19.7l-1.4 2.7 M4.7 -19.6l-2.2 2.1 M6.9 -16.3l-2.8 0.6 M2.4 -21.8l2.6 1.9 M-3.1 -14.6l3.5 1.1 M5.9 -13.0l2.2 2.4" stroke="#2e8a3a" stroke-width="0.8" fill="none" stroke-linecap="round" opacity="0.7"/><path d="M -6 0 L 6 0 L 9.2 -18.0 L 9.8 -47.0 L 7 -55.0 L -7 -55.0 L -9.8 -47.0 L -9.2 -18.0 Z" fill="none" stroke="#2b7636" stroke-width="1.2" stroke-linejoin="round"/><ellipse cx="0" cy="-7" rx="4.4" ry="6" fill="#2b8a3a"/></g>
<g transform="translate(138.0 537.5) rotate(-90.5)"><path d="M -6 0 L 6 0 L 9.2 -18.0 L 9.8 -47.0 L 7 -55.0 L -7 -55.0 L -9.8 -47.0 L -9.2 -18.0 Z" fill="#55b160" stroke="#2d7d39" stroke-width="1.2" stroke-linejoin="round"/><path d="M -9.4 -24.2 L 9.4 -24.2 L 9.8 -47.0 L 7 -55.0 L -7 -55.0 L -9.8 -47.0 Z" fill="#e2f5d4"/><clipPath id="gc1835"><path d="M -9.4 -24.2 L 9.4 -24.2 L 9.8 -47.0 L 7 -55.0 L -7 -55.0 L -9.8 -47.0 Z"/></clipPath><path d="M-5.1 -24.2L-6.3 -27.4 M-1.7 -24.2L-1.0 -27.9 M0.8 -24.2L1.8 -27.6 M3.2 -24.2L4.5 -28.0 M7.2 -24.2L8.2 -26.8 M-8.6 -27.1L-6.3 -27.4 M-6.3 -27.4L-1.0 -27.9 M-6.3 -27.4L-5.8 -30.1 M-1.0 -27.9L1.8 -27.6 M-1.0 -27.9L-2.0 -29.9 M1.8 -27.6L4.5 -28.0 M1.8 -27.6L-0.2 -29.7 M4.5 -28.0L8.2 -26.8 M4.5 -28.0L5.4 -30.4 M8.2 -26.8L9.9 -27.6 M8.2 -26.8L6.9 -30.1 M-8.6 -30.5L-5.8 -30.1 M-5.8 -30.1L-2.0 -29.9 M-5.8 -30.1L-5.7 -33.7 M-2.0 -29.9L-0.2 -29.7 M-2.0 -29.9L-1.4 -33.5 M-0.2 -29.7L5.4 -30.4 M-0.2 -29.7L2.1 -33.0 M5.4 -30.4L6.9 -30.1 M5.4 -30.4L3.6 -33.5 M6.9 -30.1L9.9 -29.6 M6.9 -30.1L8.5 -32.4 M-8.6 -33.3L-5.7 -33.7 M-5.7 -33.7L-1.4 -33.5 M-5.7 -33.7L-6.0 -35.4 M-1.4 -33.5L2.1 -33.0 M-1.4 -33.5L-2.7 -36.1 M2.1 -33.0L3.6 -33.5 M2.1 -33.0L0.5 -36.0 M3.6 -33.5L8.5 -32.4 M3.6 -33.5L4.0 -35.5 M8.5 -32.4L9.9 -32.3 M8.5 -32.4L7.9 -36.3 M-8.6 -37.1L-6.0 -35.4 M-6.0 -35.4L-2.7 -36.1 M-6.0 -35.4L-5.0 -39.3 M-2.7 -36.1L0.5 -36.0 M-2.7 -36.1L-3.4 -40.1 M0.5 -36.0L4.0 -35.5 M0.5 -36.0L0.4 -39.4 M4.0 -35.5L7.9 -36.3 M4.0 -35.5L4.2 -38.9 M7.9 -36.3L9.9 -36.3 M7.9 -36.3L8.4 -39.9 M-8.6 -40.1L-5.0 -39.3 M-5.0 -39.3L-3.4 -40.1 M-5.0 -39.3L-5.6 -41.7 M-3.4 -40.1L0.4 -39.4 M-3.4 -40.1L-1.2 -42.0 M0.4 -39.4L4.2 -38.9 M0.4 -39.4L1.5 -41.7 M4.2 -38.9L8.4 -39.9 M4.2 -38.9L3.2 -42.5 M8.4 -39.9L9.9 -39.8 M8.4 -39.9L7.1 -43.1 M-8.6 -42.4L-5.6 -41.7 M-5.6 -41.7L-1.2 -42.0 M-5.6 -41.7L-5.0 -45.6 M-1.2 -42.0L1.5 -41.7 M-1.2 -42.0L-2.6 -44.3 M1.5 -41.7L3.2 -42.5 M1.5 -41.7L1.0 -44.3 M3.2 -42.5L7.1 -43.1 M3.2 -42.5L4.5 -45.2 M7.1 -43.1L9.9 -42.6 M7.1 -43.1L8.2 -45.8 M-8.6 -45.8L-5.0 -45.6 M-5.0 -45.6L-2.6 -44.3 M-5.0 -45.6L-6.5 -48.1 M-2.6 -44.3L1.0 -44.3 M-2.6 -44.3L-3.1 -48.1 M1.0 -44.3L4.5 -45.2 M1.0 -44.3L1.3 -47.8 M4.5 -45.2L8.2 -45.8 M4.5 -45.2L4.7 -49.2 M8.2 -45.8L9.9 -44.4 M8.2 -45.8L6.2 -47.8 M-8.6 -48.4L-6.5 -48.1 M-6.5 -48.1L-3.1 -48.1 M-6.5 -48.1L-5.6 -52.0 M-3.1 -48.1L1.3 -47.8 M-3.1 -48.1L-3.4 -52.1 M1.3 -47.8L4.7 -49.2 M1.3 -47.8L0.2 -50.7 M4.7 -49.2L6.2 -47.8 M4.7 -49.2L4.4 -50.5 M6.2 -47.8L9.9 -48.1 M6.2 -47.8L8.3 -51.2 M-8.6 -50.4L-5.6 -52.0 M-5.6 -52.0L-3.4 -52.1 M-5.6 -52.0L-5.2 -54.9 M-3.4 -52.1L0.2 -50.7 M-3.4 -52.1L-2.2 -54.2 M0.2 -50.7L4.4 -50.5 M0.2 -50.7L-0.1 -55.0 M4.4 -50.5L8.3 -51.2 M4.4 -50.5L5.3 -54.2 M8.3 -51.2L9.9 -51.9 M8.3 -51.2L7.3 -54.3 M-8.6 -54.8L-5.2 -54.9 M-5.2 -54.9L-2.2 -54.2 M-5.2 -54.9L-5.0 -55.0 M-2.2 -54.2L-0.1 -55.0 M-2.2 -54.2L-1.8 -55.0 M-0.1 -55.0L5.3 -54.2 M-0.1 -55.0L1.2 -55.0 M5.3 -54.2L7.3 -54.3 M5.3 -54.2L3.3 -55.0 M7.3 -54.3L9.9 -53.6 M7.3 -54.3L6.8 -55.0" stroke="#45a150" stroke-width="0.75" fill="none" clip-path="url(#gc1835)"/><path d="M-4.6 -20.5l3.6 1.2 M1.2 -19.6l0.4 2.7 M-6.2 -14.1l-1.0 3.8 M-0.8 -16.9l1.5 1.5 M6.0 -14.5l2.1 3.2 M4.4 -20.1l-1.2 3.7 M-0.1 -13.5l2.0 1.9 M3.1 -20.9l2.1 3.1 M-0.2 -15.1l1.7 1.6 M-2.0 -21.3l-2.6 0.2 M0.9 -22.0l-0.3 2.8 M-1.4 -22.5l3.4 1.4 M-2.1 -20.7l2.1 1.5 M-3.7 -22.8l-1.3 2.3 M-4.8 -16.0l2.4 0.7 M4.7 -21.9l0.7 3.6 M4.3 -21.6l1.5 3.1 M-1.7 -13.4l3.1 2.4" stroke="#2e8a3a" stroke-width="0.8" fill="none" stroke-linecap="round" opacity="0.7"/><path d="M -6 0 L 6 0 L 9.2 -18.0 L 9.8 -47.0 L 7 -55.0 L -7 -55.0 L -9.8 -47.0 L -9.2 -18.0 Z" fill="none" stroke="#2b7636" stroke-width="1.2" stroke-linejoin="round"/><ellipse cx="0" cy="-7" rx="4.4" ry="6" fill="#2b8a3a"/></g>
<g transform="translate(333.0 507.0) rotate(90.0)"><path d="M -6 0 L 6 0 L 9.2 -18.0 L 9.8 -47.0 L 7 -55.0 L -7 -55.0 L -9.8 -47.0 L -9.2 -18.0 Z" fill="#55b160" stroke="#2d7d39" stroke-width="1.2" stroke-linejoin="round"/><path d="M -9.4 -24.2 L 9.4 -24.2 L 9.8 -47.0 L 7 -55.0 L -7 -55.0 L -9.8 -47.0 Z" fill="#e2f5d4"/><clipPath id="gc1990"><path d="M -9.4 -24.2 L 9.4 -24.2 L 9.8 -47.0 L 7 -55.0 L -7 -55.0 L -9.8 -47.0 Z"/></clipPath><path d="M-5.4 -24.2L-4.4 -27.0 M-2.9 -24.2L-2.5 -27.7 M0.9 -24.2L1.3 -27.8 M3.3 -24.2L5.1 -28.0 M7.9 -24.2L7.4 -27.1 M-8.6 -27.7L-4.4 -27.0 M-4.4 -27.0L-2.5 -27.7 M-4.4 -27.0L-5.7 -29.9 M-2.5 -27.7L1.3 -27.8 M-2.5 -27.7L-2.0 -30.6 M1.3 -27.8L5.1 -28.0 M1.3 -27.8L0.7 -31.0 M5.1 -28.0L7.4 -27.1 M5.1 -28.0L3.4 -29.5 M7.4 -27.1L9.9 -27.7 M7.4 -27.1L7.0 -29.9 M-8.6 -29.7L-5.7 -29.9 M-5.7 -29.9L-2.0 -30.6 M-5.7 -29.9L-5.7 -33.2 M-2.0 -30.6L0.7 -31.0 M-2.0 -30.6L-2.7 -34.1 M0.7 -31.0L3.4 -29.5 M0.7 -31.0L0.5 -33.7 M3.4 -29.5L7.0 -29.9 M3.4 -29.5L3.3 -32.8 M7.0 -29.9L9.9 -31.0 M7.0 -29.9L6.9 -33.4 M-8.6 -33.1L-5.7 -33.2 M-5.7 -33.2L-2.7 -34.1 M-5.7 -33.2L-4.5 -35.5 M-2.7 -34.1L0.5 -33.7 M-2.7 -34.1L-3.1 -36.6 M0.5 -33.7L3.3 -32.8 M0.5 -33.7L-0.1 -35.8 M3.3 -32.8L6.9 -33.4 M3.3 -32.8L4.6 -36.5 M6.9 -33.4L9.9 -32.4 M6.9 -33.4L7.2 -35.9 M-8.6 -35.7L-4.5 -35.5 M-4.5 -35.5L-3.1 -36.6 M-4.5 -35.5L-4.6 -39.5 M-3.1 -36.6L-0.1 -35.8 M-3.1 -36.6L-1.9 -39.8 M-0.1 -35.8L4.6 -36.5 M-0.1 -35.8L0.1 -38.4 M4.6 -36.5L7.2 -35.9 M4.6 -36.5L4.8 -38.8 M7.2 -35.9L9.9 -35.8 M7.2 -35.9L6.3 -40.1 M-8.6 -39.7L-4.6 -39.5 M-4.6 -39.5L-1.9 -39.8 M-4.6 -39.5L-5.9 -42.4 M-1.9 -39.8L0.1 -38.4 M-1.9 -39.8L-3.3 -42.6 M0.1 -38.4L4.8 -38.8 M0.1 -38.4L1.3 -42.8 M4.8 -38.8L6.3 -40.1 M4.8 -38.8L5.0 -42.1 M6.3 -40.1L9.9 -39.9 M6.3 -40.1L7.9 -42.7 M-8.6 -42.8L-5.9 -42.4 M-5.9 -42.4L-3.3 -42.6 M-5.9 -42.4L-5.8 -46.2 M-3.3 -42.6L1.3 -42.8 M-3.3 -42.6L-1.4 -44.6 M1.3 -42.8L5.0 -42.1 M1.3 -42.8L0.5 -46.1 M5.0 -42.1L7.9 -42.7 M5.0 -42.1L5.0 -45.0 M7.9 -42.7L9.9 -42.3 M7.9 -42.7L6.3 -45.7 M-8.6 -44.8L-5.8 -46.2 M-5.8 -46.2L-1.4 -44.6 M-5.8 -46.2L-6.1 -47.4 M-1.4 -44.6L0.5 -46.1 M-1.4 -44.6L-1.6 -49.0 M0.5 -46.1L5.0 -45.0 M0.5 -46.1L1.5 -48.4 M5.0 -45.0L6.3 -45.7 M5.0 -45.0L4.8 -47.5 M6.3 -45.7L9.9 -46.0 M6.3 -45.7L6.9 -49.0 M-8.6 -47.6L-6.1 -47.4 M-6.1 -47.4L-1.6 -49.0 M-6.1 -47.4L-4.4 -50.8 M-1.6 -49.0L1.5 -48.4 M-1.6 -49.0L-1.6 -50.5 M1.5 -48.4L4.8 -47.5 M1.5 -48.4L1.3 -51.3 M4.8 -47.5L6.9 -49.0 M4.8 -47.5L3.1 -50.8 M6.9 -49.0L9.9 -47.3 M6.9 -49.0L7.2 -51.2 M-8.6 -51.4L-4.4 -50.8 M-4.4 -50.8L-1.6 -50.5 M-4.4 -50.8L-4.8 -55.1 M-1.6 -50.5L1.3 -51.3 M-1.6 -50.5L-1.7 -53.6 M1.3 -51.3L3.1 -50.8 M1.3 -51.3L0.4 -54.1 M3.1 -50.8L7.2 -51.2 M3.1 -50.8L5.3 -53.9 M7.2 -51.2L9.9 -50.3 M7.2 -51.2L7.5 -54.7 M-8.6 -54.9L-4.8 -55.1 M-4.8 -55.1L-1.7 -53.6 M-4.8 -55.1L-5.7 -55.0 M-1.7 -53.6L0.4 -54.1 M-1.7 -53.6L-2.4 -55.0 M0.4 -54.1L5.3 -53.9 M0.4 -54.1L0.3 -55.0 M5.3 -53.9L7.5 -54.7 M5.3 -53.9L3.7 -55.0 M7.5 -54.7L9.9 -55.1 M7.5 -54.7L6.5 -55.0" stroke="#45a150" stroke-width="0.75" fill="none" clip-path="url(#gc1990)"/><path d="M-0.2 -18.3l-1.2 1.6 M2.7 -21.8l-1.5 3.1 M-5.1 -16.0l-0.7 2.4 M1.8 -22.0l0.9 3.8 M2.5 -21.6l-3.7 0.2 M-1.3 -21.1l-1.1 1.7 M-0.2 -22.8l-2.5 0.8 M-5.5 -20.0l-2.3 0.3 M-0.8 -17.4l1.9 2.5 M-6.4 -18.4l-3.0 0.2 M3.5 -19.8l-1.7 1.8 M2.0 -13.4l0.1 3.6 M-2.5 -19.5l2.5 0.7 M1.6 -15.7l-1.9 2.7 M-5.9 -15.6l2.8 0.2 M-5.0 -19.4l-3.0 0.4 M5.5 -16.2l3.3 1.1 M-2.7 -16.9l1.2 3.1" stroke="#2e8a3a" stroke-width="0.8" fill="none" stroke-linecap="round" opacity="0.7"/><path d="M -6 0 L 6 0 L 9.2 -18.0 L 9.8 -47.0 L 7 -55.0 L -7 -55.0 L -9.8 -47.0 L -9.2 -18.0 Z" fill="none" stroke="#2b7636" stroke-width="1.2" stroke-linejoin="round"/><ellipse cx="0" cy="-7" rx="4.4" ry="6" fill="#2b8a3a"/></g>
<g transform="translate(333.0 538.0) rotate(90.5)"><path d="M -6 0 L 6 0 L 9.2 -18.0 L 9.8 -45.0 L 7 -53.0 L -7 -53.0 L -9.8 -45.0 L -9.2 -18.0 Z" fill="#55b160" stroke="#2d7d39" stroke-width="1.2" stroke-linejoin="round"/><path d="M -9.4 -23.3 L 9.4 -23.3 L 9.8 -45.0 L 7 -53.0 L -7 -53.0 L -9.8 -45.0 Z" fill="#e2f5d4"/><clipPath id="gc2025"><path d="M -9.4 -23.3 L 9.4 -23.3 L 9.8 -45.0 L 7 -53.0 L -7 -53.0 L -9.8 -45.0 Z"/></clipPath><path d="M-5.7 -23.3L-6.5 -27.1 M-2.8 -23.3L-1.5 -25.5 M0.1 -23.3L2.2 -26.5 M5.2 -23.3L3.1 -26.9 M8.2 -23.3L7.2 -25.9 M-8.6 -26.8L-6.5 -27.1 M-6.5 -27.1L-1.5 -25.5 M-6.5 -27.1L-5.1 -30.0 M-1.5 -25.5L2.2 -26.5 M-1.5 -25.5L-2.9 -30.0 M2.2 -26.5L3.1 -26.9 M2.2 -26.5L1.3 -29.5 M3.1 -26.9L7.2 -25.9 M3.1 -26.9L5.3 -28.6 M7.2 -25.9L9.9 -25.3 M7.2 -25.9L7.4 -29.9 M-8.6 -29.1L-5.1 -30.0 M-5.1 -30.0L-2.9 -30.0 M-5.1 -30.0L-5.1 -31.7 M-2.9 -30.0L1.3 -29.5 M-2.9 -30.0L-2.2 -33.0 M1.3 -29.5L5.3 -28.6 M1.3 -29.5L-0.0 -33.2 M5.3 -28.6L7.4 -29.9 M5.3 -28.6L4.7 -31.5 M7.4 -29.9L9.9 -29.6 M7.4 -29.9L6.4 -33.3 M-8.6 -33.3L-5.1 -31.7 M-5.1 -31.7L-2.2 -33.0 M-5.1 -31.7L-4.9 -35.6 M-2.2 -33.0L-0.0 -33.2 M-2.2 -33.0L-3.4 -34.7 M-0.0 -33.2L4.7 -31.5 M-0.0 -33.2L1.4 -35.2 M4.7 -31.5L6.4 -33.3 M4.7 -31.5L4.1 -35.2 M6.4 -33.3L9.9 -31.4 M6.4 -33.3L7.4 -35.5 M-8.6 -36.0L-4.9 -35.6 M-4.9 -35.6L-3.4 -34.7 M-4.9 -35.6L-6.2 -38.5 M-3.4 -34.7L1.4 -35.2 M-3.4 -34.7L-1.9 -39.2 M1.4 -35.2L4.1 -35.2 M1.4 -35.2L1.7 -37.9 M4.1 -35.2L7.4 -35.5 M4.1 -35.2L3.8 -38.0 M7.4 -35.5L9.9 -35.3 M7.4 -35.5L7.6 -38.5 M-8.6 -38.1L-6.2 -38.5 M-6.2 -38.5L-1.9 -39.2 M-6.2 -38.5L-6.3 -40.6 M-1.9 -39.2L1.7 -37.9 M-1.9 -39.2L-2.1 -41.1 M1.7 -37.9L3.8 -38.0 M1.7 -37.9L1.8 -41.9 M3.8 -38.0L7.6 -38.5 M3.8 -38.0L4.8 -40.9 M7.6 -38.5L9.9 -38.6 M7.6 -38.5L6.6 -41.2 M-8.6 -41.0L-6.3 -40.6 M-6.3 -40.6L-2.1 -41.1 M-6.3 -40.6L-5.7 -44.8 M-2.1 -41.1L1.8 -41.9 M-2.1 -41.1L-2.3 -44.8 M1.8 -41.9L4.8 -40.9 M1.8 -41.9L0.3 -43.4 M4.8 -40.9L6.6 -41.2 M4.8 -40.9L3.5 -43.8 M6.6 -41.2L9.9 -41.2 M6.6 -41.2L6.7 -43.6 M-8.6 -43.4L-5.7 -44.8 M-5.7 -44.8L-2.3 -44.8 M-5.7 -44.8L-5.0 -46.9 M-2.3 -44.8L0.3 -43.4 M-2.3 -44.8L-2.9 -47.4 M0.3 -43.4L3.5 -43.8 M0.3 -43.4L1.1 -46.9 M3.5 -43.8L6.7 -43.6 M3.5 -43.8L4.8 -46.5 M6.7 -43.6L9.9 -44.0 M6.7 -43.6L7.6 -46.6 M-8.6 -47.9L-5.0 -46.9 M-5.0 -46.9L-2.9 -47.4 M-5.0 -46.9L-6.3 -50.3 M-2.9 -47.4L1.1 -46.9 M-2.9 -47.4L-2.2 -49.6 M1.1 -46.9L4.8 -46.5 M1.1 -46.9L2.1 -50.1 M4.8 -46.5L7.6 -46.6 M4.8 -46.5L5.3 -50.3 M7.6 -46.6L9.9 -47.0 M7.6 -46.6L7.3 -49.9 M-8.6 -49.7L-6.3 -50.3 M-6.3 -50.3L-2.2 -49.6 M-6.3 -50.3L-6.1 -53.4 M-2.2 -49.6L2.1 -50.1 M-2.2 -49.6L-3.2 -53.6 M2.1 -50.1L5.3 -50.3 M2.1 -50.1L1.3 -53.5 M5.3 -50.3L7.3 -49.9 M5.3 -50.3L3.1 -54.2 M7.3 -49.9L9.9 -50.2 M7.3 -49.9L7.9 -52.4 M-8.6 -52.4L-6.1 -53.4 M-6.1 -53.4L-3.2 -53.6 M-6.1 -53.4L-6.3 -53.0 M-3.2 -53.6L1.3 -53.5 M-3.2 -53.6L-3.1 -53.0 M1.3 -53.5L3.1 -54.2 M1.3 -53.5L2.0 -53.0 M3.1 -54.2L7.9 -52.4 M3.1 -54.2L3.2 -53.0 M7.9 -52.4L9.9 -53.4 M7.9 -52.4L8.6 -53.0" stroke="#45a150" stroke-width="0.75" fill="none" clip-path="url(#gc2025)"/><path d="M0.9 -13.8l-2.1 0.9 M3.4 -19.1l-2.5 2.3 M4.6 -21.2l1.3 3.2 M6.3 -15.6l3.2 0.4 M-5.6 -17.2l-1.8 1.3 M6.0 -16.0l1.7 1.7 M-0.7 -14.5l-0.6 2.2 M-6.7 -21.3l-1.9 1.4 M0.8 -19.6l-1.5 2.3 M-5.0 -14.2l-0.4 3.4 M4.3 -13.5l2.7 0.1 M-4.9 -17.6l-3.3 1.4 M-6.5 -20.6l-2.8 1.8 M-1.5 -17.9l3.2 1.8 M-1.5 -14.2l-0.7 2.0 M-2.4 -20.3l-3.0 1.0 M-6.4 -20.7l1.2 2.7 M1.1 -18.7l0.9 1.8" stroke="#2e8a3a" stroke-width="0.8" fill="none" stroke-linecap="round" opacity="0.7"/><path d="M -6 0 L 6 0 L 9.2 -18.0 L 9.8 -45.0 L 7 -53.0 L -7 -53.0 L -9.8 -45.0 L -9.2 -18.0 Z" fill="none" stroke="#2b7636" stroke-width="1.2" stroke-linejoin="round"/><ellipse cx="0" cy="-7" rx="4.4" ry="6" fill="#2b8a3a"/></g>
<g transform="translate(597.5 453.0) rotate(-75.8)"><path d="M -6 0 L 6 0 L 9.2 -18.0 L 9.8 -45.1 L 7 -53.1 L -7 -53.1 L -9.8 -45.1 L -9.2 -18.0 Z" fill="#55b160" stroke="#2d7d39" stroke-width="1.2" stroke-linejoin="round"/><path d="M -9.4 -23.4 L 9.4 -23.4 L 9.8 -45.1 L 7 -53.1 L -7 -53.1 L -9.8 -45.1 Z" fill="#e2f5d4"/><clipPath id="gc2154"><path d="M -9.4 -23.4 L 9.4 -23.4 L 9.8 -45.1 L 7 -53.1 L -7 -53.1 L -9.8 -45.1 Z"/></clipPath><path d="M-5.2 -23.4L-6.3 -26.0 M-2.6 -23.4L-2.7 -26.8 M-0.2 -23.4L1.0 -26.8 M4.1 -23.4L4.4 -26.3 M8.6 -23.4L8.5 -25.4 M-8.6 -27.3L-6.3 -26.0 M-6.3 -26.0L-2.7 -26.8 M-6.3 -26.0L-4.7 -28.6 M-2.7 -26.8L1.0 -26.8 M-2.7 -26.8L-1.5 -29.1 M1.0 -26.8L4.4 -26.3 M1.0 -26.8L1.3 -29.6 M4.4 -26.3L8.5 -25.4 M4.4 -26.3L3.7 -28.8 M8.5 -25.4L9.9 -27.3 M8.5 -25.4L8.3 -28.5 M-8.6 -29.2L-4.7 -28.6 M-4.7 -28.6L-1.5 -29.1 M-4.7 -28.6L-4.8 -31.9 M-1.5 -29.1L1.3 -29.6 M-1.5 -29.1L-2.2 -32.1 M1.3 -29.6L3.7 -28.8 M1.3 -29.6L0.6 -32.3 M3.7 -28.8L8.3 -28.5 M3.7 -28.8L4.0 -33.2 M8.3 -28.5L9.9 -29.0 M8.3 -28.5L7.0 -32.7 M-8.6 -32.8L-4.8 -31.9 M-4.8 -31.9L-2.2 -32.1 M-4.8 -31.9L-5.7 -35.9 M-2.2 -32.1L0.6 -32.3 M-2.2 -32.1L-2.8 -35.7 M0.6 -32.3L4.0 -33.2 M0.6 -32.3L0.1 -36.4 M4.0 -33.2L7.0 -32.7 M4.0 -33.2L5.1 -35.5 M7.0 -32.7L9.9 -31.4 M7.0 -32.7L7.3 -35.2 M-8.6 -35.4L-5.7 -35.9 M-5.7 -35.9L-2.8 -35.7 M-5.7 -35.9L-6.4 -38.8 M-2.8 -35.7L0.1 -36.4 M-2.8 -35.7L-2.7 -37.9 M0.1 -36.4L5.1 -35.5 M0.1 -36.4L1.1 -37.5 M5.1 -35.5L7.3 -35.2 M5.1 -35.5L3.8 -37.5 M7.3 -35.2L9.9 -35.8 M7.3 -35.2L7.6 -39.2 M-8.6 -39.0L-6.4 -38.8 M-6.4 -38.8L-2.7 -37.9 M-6.4 -38.8L-4.2 -41.7 M-2.7 -37.9L1.1 -37.5 M-2.7 -37.9L-1.5 -41.5 M1.1 -37.5L3.8 -37.5 M1.1 -37.5L1.9 -42.2 M3.8 -37.5L7.6 -39.2 M3.8 -37.5L4.2 -40.6 M7.6 -39.2L9.9 -39.0 M7.6 -39.2L6.9 -41.9 M-8.6 -41.2L-4.2 -41.7 M-4.2 -41.7L-1.5 -41.5 M-4.2 -41.7L-6.0 -44.0 M-1.5 -41.5L1.9 -42.2 M-1.5 -41.5L-2.9 -44.6 M1.9 -42.2L4.2 -40.6 M1.9 -42.2L0.3 -44.2 M4.2 -40.6L6.9 -41.9 M4.2 -40.6L5.1 -44.1 M6.9 -41.9L9.9 -42.3 M6.9 -41.9L6.7 -43.9 M-8.6 -45.0L-6.0 -44.0 M-6.0 -44.0L-2.9 -44.6 M-6.0 -44.0L-6.4 -46.8 M-2.9 -44.6L0.3 -44.2 M-2.9 -44.6L-1.3 -47.7 M0.3 -44.2L5.1 -44.1 M0.3 -44.2L0.1 -48.0 M5.1 -44.1L6.7 -43.9 M5.1 -44.1L4.3 -46.6 M6.7 -43.9L9.9 -43.4 M6.7 -43.9L7.7 -46.5 M-8.6 -47.2L-6.4 -46.8 M-6.4 -46.8L-1.3 -47.7 M-6.4 -46.8L-4.8 -50.1 M-1.3 -47.7L0.1 -48.0 M-1.3 -47.7L-2.4 -50.0 M0.1 -48.0L4.3 -46.6 M0.1 -48.0L0.6 -51.3 M4.3 -46.6L7.7 -46.5 M4.3 -46.6L4.0 -51.3 M7.7 -46.5L9.9 -47.9 M7.7 -46.5L7.7 -50.7 M-8.6 -50.7L-4.8 -50.1 M-4.8 -50.1L-2.4 -50.0 M-4.8 -50.1L-6.0 -53.4 M-2.4 -50.0L0.6 -51.3 M-2.4 -50.0L-3.4 -52.5 M0.6 -51.3L4.0 -51.3 M0.6 -51.3L1.2 -52.4 M4.0 -51.3L7.7 -50.7 M4.0 -51.3L3.1 -53.1 M7.7 -50.7L9.9 -50.4 M7.7 -50.7L7.9 -53.7 M-8.6 -53.2L-6.0 -53.4 M-6.0 -53.4L-3.4 -52.5 M-6.0 -53.4L-6.2 -53.1 M-3.4 -52.5L1.2 -52.4 M-3.4 -52.5L-3.1 -53.1 M1.2 -52.4L3.1 -53.1 M1.2 -52.4L1.6 -53.1 M3.1 -53.1L7.9 -53.7 M3.1 -53.1L3.2 -53.1 M7.9 -53.7L9.9 -54.2 M7.9 -53.7L8.2 -53.1" stroke="#45a150" stroke-width="0.75" fill="none" clip-path="url(#gc2154)"/><path d="M-2.2 -16.0l-2.1 0.9 M6.7 -17.0l2.4 2.1 M4.4 -17.9l3.3 0.3 M2.1 -17.2l-1.9 2.5 M-1.9 -17.4l1.6 1.9 M0.8 -21.4l-3.3 2.2 M-4.9 -16.5l1.2 3.8 M6.1 -16.5l2.9 1.2 M-4.1 -15.1l2.2 2.3 M3.3 -13.9l-3.4 1.5 M3.9 -17.4l1.5 3.1 M-0.8 -14.3l3.0 2.4 M5.6 -18.7l2.8 2.2 M-6.6 -16.2l3.6 0.2 M5.8 -16.1l1.1 2.2 M-1.7 -13.9l1.3 3.1 M5.0 -22.1l3.4 0.2 M-3.6 -19.1l1.5 2.4" stroke="#2e8a3a" stroke-width="0.8" fill="none" stroke-linecap="round" opacity="0.7"/><path d="M -6 0 L 6 0 L 9.2 -18.0 L 9.8 -45.1 L 7 -53.1 L -7 -53.1 L -9.8 -45.1 L -9.2 -18.0 Z" fill="none" stroke="#2b7636" stroke-width="1.2" stroke-linejoin="round"/><ellipse cx="0" cy="-7" rx="4.4" ry="6" fill="#2b8a3a"/></g>
<g transform="translate(593.0 475.0) rotate(-85.3)"><path d="M -6 0 L 6 0 L 9.2 -18.0 L 9.8 -47.2 L 7 -55.2 L -7 -55.2 L -9.8 -47.2 L -9.2 -18.0 Z" fill="#55b160" stroke="#2d7d39" stroke-width="1.2" stroke-linejoin="round"/><path d="M -9.4 -24.3 L 9.4 -24.3 L 9.8 -47.2 L 7 -55.2 L -7 -55.2 L -9.8 -47.2 Z" fill="#e2f5d4"/><clipPath id="gc2295"><path d="M -9.4 -24.3 L 9.4 -24.3 L 9.8 -47.2 L 7 -55.2 L -7 -55.2 L -9.8 -47.2 Z"/></clipPath><path d="M-5.9 -24.3L-4.4 -26.7 M-1.3 -24.3L-1.1 -28.0 M1.0 -24.3L0.5 -28.1 M5.4 -24.3L3.0 -26.5 M8.1 -24.3L6.8 -27.6 M-8.6 -27.3L-4.4 -26.7 M-4.4 -26.7L-1.1 -28.0 M-4.4 -26.7L-6.1 -31.2 M-1.1 -28.0L0.5 -28.1 M-1.1 -28.0L-1.5 -29.6 M0.5 -28.1L3.0 -26.5 M0.5 -28.1L1.6 -31.2 M3.0 -26.5L6.8 -27.6 M3.0 -26.5L4.9 -30.4 M6.8 -27.6L9.9 -27.1 M6.8 -27.6L7.2 -31.0 M-8.6 -29.4L-6.1 -31.2 M-6.1 -31.2L-1.5 -29.6 M-6.1 -31.2L-4.7 -34.0 M-1.5 -29.6L1.6 -31.2 M-1.5 -29.6L-1.2 -34.0 M1.6 -31.2L4.9 -30.4 M1.6 -31.2L0.5 -33.3 M4.9 -30.4L7.2 -31.0 M4.9 -30.4L3.8 -32.8 M7.2 -31.0L9.9 -29.4 M7.2 -31.0L7.3 -33.5 M-8.6 -32.9L-4.7 -34.0 M-4.7 -34.0L-1.2 -34.0 M-4.7 -34.0L-5.0 -36.5 M-1.2 -34.0L0.5 -33.3 M-1.2 -34.0L-2.6 -35.5 M0.5 -33.3L3.8 -32.8 M0.5 -33.3L1.2 -36.9 M3.8 -32.8L7.3 -33.5 M3.8 -32.8L4.5 -37.3 M7.3 -33.5L9.9 -33.5 M7.3 -33.5L6.5 -36.1 M-8.6 -36.0L-5.0 -36.5 M-5.0 -36.5L-2.6 -35.5 M-5.0 -36.5L-4.9 -40.2 M-2.6 -35.5L1.2 -36.9 M-2.6 -35.5L-1.3 -40.2 M1.2 -36.9L4.5 -37.3 M1.2 -36.9L0.1 -38.4 M4.5 -37.3L6.5 -36.1 M4.5 -37.3L5.3 -39.2 M6.5 -36.1L9.9 -36.1 M6.5 -36.1L6.2 -39.8 M-8.6 -38.9L-4.9 -40.2 M-4.9 -40.2L-1.3 -40.2 M-4.9 -40.2L-5.3 -41.3 M-1.3 -40.2L0.1 -38.4 M-1.3 -40.2L-2.1 -41.6 M0.1 -38.4L5.3 -39.2 M0.1 -38.4L2.1 -43.1 M5.3 -39.2L6.2 -39.8 M5.3 -39.2L5.3 -41.6 M6.2 -39.8L9.9 -39.2 M6.2 -39.8L8.5 -42.8 M-8.6 -42.0L-5.3 -41.3 M-5.3 -41.3L-2.1 -41.6 M-5.3 -41.3L-6.6 -45.7 M-2.1 -41.6L2.1 -43.1 M-2.1 -41.6L-1.1 -45.9 M2.1 -43.1L5.3 -41.6 M2.1 -43.1L-0.1 -44.7 M5.3 -41.6L8.5 -42.8 M5.3 -41.6L5.3 -45.7 M8.5 -42.8L9.9 -43.1 M8.5 -42.8L7.0 -46.2 M-8.6 -44.9L-6.6 -45.7 M-6.6 -45.7L-1.1 -45.9 M-6.6 -45.7L-5.8 -48.5 M-1.1 -45.9L-0.1 -44.7 M-1.1 -45.9L-1.0 -47.8 M-0.1 -44.7L5.3 -45.7 M-0.1 -44.7L0.4 -48.4 M5.3 -45.7L7.0 -46.2 M5.3 -45.7L4.3 -48.5 M7.0 -46.2L9.9 -45.4 M7.0 -46.2L6.6 -47.8 M-8.6 -48.7L-5.8 -48.5 M-5.8 -48.5L-1.0 -47.8 M-5.8 -48.5L-4.4 -51.0 M-1.0 -47.8L0.4 -48.4 M-1.0 -47.8L-2.8 -51.3 M0.4 -48.4L4.3 -48.5 M0.4 -48.4L2.2 -50.9 M4.3 -48.5L6.6 -47.8 M4.3 -48.5L4.8 -50.3 M6.6 -47.8L9.9 -47.5 M6.6 -47.8L8.2 -51.0 M-8.6 -50.7L-4.4 -51.0 M-4.4 -51.0L-2.8 -51.3 M-4.4 -51.0L-6.5 -53.8 M-2.8 -51.3L2.2 -50.9 M-2.8 -51.3L-2.4 -54.2 M2.2 -50.9L4.8 -50.3 M2.2 -50.9L1.4 -54.4 M4.8 -50.3L8.2 -51.0 M4.8 -50.3L4.6 -54.4 M8.2 -51.0L9.9 -52.1 M8.2 -51.0L7.6 -54.3 M-8.6 -54.0L-6.5 -53.8 M-6.5 -53.8L-2.4 -54.2 M-6.5 -53.8L-5.5 -55.2 M-2.4 -54.2L1.4 -54.4 M-2.4 -54.2L-2.6 -55.2 M1.4 -54.4L4.6 -54.4 M1.4 -54.4L1.1 -55.2 M4.6 -54.4L7.6 -54.3 M4.6 -54.4L3.9 -55.2 M7.6 -54.3L9.9 -54.0 M7.6 -54.3L8.2 -55.2" stroke="#45a150" stroke-width="0.75" fill="none" clip-path="url(#gc2295)"/><path d="M5.2 -19.6l3.9 0.8 M-3.3 -16.5l-1.8 1.1 M4.2 -16.5l-3.4 0.8 M-3.3 -14.6l-2.4 1.2 M1.3 -17.4l-2.1 0.0 M3.6 -19.5l1.9 1.4 M-1.9 -16.4l2.9 1.5 M-4.5 -13.5l-3.0 1.4 M5.7 -20.0l1.6 3.4 M-1.0 -19.1l-1.6 2.2 M-1.9 -16.5l-0.2 2.6 M2.3 -20.5l1.8 2.3 M-5.4 -16.8l-1.6 1.8 M0.2 -23.2l2.7 1.2 M2.2 -16.9l-0.3 3.6 M-3.5 -17.6l2.5 0.0 M1.3 -20.1l-0.5 3.8 M-3.4 -20.6l0.6 3.0" stroke="#2e8a3a" stroke-width="0.8" fill="none" stroke-linecap="round" opacity="0.7"/><path d="M -6 0 L 6 0 L 9.2 -18.0 L 9.8 -47.2 L 7 -55.2 L -7 -55.2 L -9.8 -47.2 L -9.2 -18.0 Z" fill="none" stroke="#2b7636" stroke-width="1.2" stroke-linejoin="round"/><ellipse cx="0" cy="-7" rx="4.4" ry="6" fill="#2b8a3a"/></g>
<g transform="translate(591.0 508.0) rotate(-88.9)"><path d="M -6 0 L 6 0 L 9.2 -18.0 L 9.8 -46.0 L 7 -54.0 L -7 -54.0 L -9.8 -46.0 L -9.2 -18.0 Z" fill="#55b160" stroke="#2d7d39" stroke-width="1.2" stroke-linejoin="round"/><path d="M -9.4 -23.8 L 9.4 -23.8 L 9.8 -46.0 L 7 -54.0 L -7 -54.0 L -9.8 -46.0 Z" fill="#e2f5d4"/><clipPath id="gc2392"><path d="M -9.4 -23.8 L 9.4 -23.8 L 9.8 -46.0 L 7 -54.0 L -7 -54.0 L -9.8 -46.0 Z"/></clipPath><path d="M-5.4 -23.8L-4.4 -26.3 M-3.2 -23.8L-2.5 -27.7 M0.1 -23.8L1.6 -25.8 M5.3 -23.8L4.0 -26.5 M6.9 -23.8L6.8 -27.3 M-8.6 -26.2L-4.4 -26.3 M-4.4 -26.3L-2.5 -27.7 M-4.4 -26.3L-5.1 -28.8 M-2.5 -27.7L1.6 -25.8 M-2.5 -27.7L-1.4 -29.6 M1.6 -25.8L4.0 -26.5 M1.6 -25.8L-0.0 -30.4 M4.0 -26.5L6.8 -27.3 M4.0 -26.5L5.1 -30.6 M6.8 -27.3L9.9 -26.1 M6.8 -27.3L7.3 -30.0 M-8.6 -30.5L-5.1 -28.8 M-5.1 -28.8L-1.4 -29.6 M-5.1 -28.8L-5.1 -32.2 M-1.4 -29.6L-0.0 -30.4 M-1.4 -29.6L-3.1 -32.6 M-0.0 -30.4L5.1 -30.6 M-0.0 -30.4L2.0 -32.4 M5.1 -30.6L7.3 -30.0 M5.1 -30.6L4.0 -31.8 M7.3 -30.0L9.9 -29.9 M7.3 -30.0L6.6 -33.6 M-8.6 -31.9L-5.1 -32.2 M-5.1 -32.2L-3.1 -32.6 M-5.1 -32.2L-4.8 -36.7 M-3.1 -32.6L2.0 -32.4 M-3.1 -32.6L-2.8 -36.4 M2.0 -32.4L4.0 -31.8 M2.0 -32.4L1.1 -34.9 M4.0 -31.8L6.6 -33.6 M4.0 -31.8L3.7 -36.1 M6.6 -33.6L9.9 -33.0 M6.6 -33.6L7.1 -35.8 M-8.6 -36.5L-4.8 -36.7 M-4.8 -36.7L-2.8 -36.4 M-4.8 -36.7L-5.2 -39.7 M-2.8 -36.4L1.1 -34.9 M-2.8 -36.4L-2.2 -38.1 M1.1 -34.9L3.7 -36.1 M1.1 -34.9L0.3 -38.9 M3.7 -36.1L7.1 -35.8 M3.7 -36.1L5.0 -39.4 M7.1 -35.8L9.9 -36.6 M7.1 -35.8L7.0 -38.0 M-8.6 -38.1L-5.2 -39.7 M-5.2 -39.7L-2.2 -38.1 M-5.2 -39.7L-4.6 -42.5 M-2.2 -38.1L0.3 -38.9 M-2.2 -38.1L-2.4 -42.7 M0.3 -38.9L5.0 -39.4 M0.3 -38.9L1.3 -42.1 M5.0 -39.4L7.0 -38.0 M5.0 -39.4L3.5 -40.8 M7.0 -38.0L9.9 -38.7 M7.0 -38.0L6.6 -41.7 M-8.6 -41.3L-4.6 -42.5 M-4.6 -42.5L-2.4 -42.7 M-4.6 -42.5L-5.7 -44.4 M-2.4 -42.7L1.3 -42.1 M-2.4 -42.7L-2.7 -45.0 M1.3 -42.1L3.5 -40.8 M1.3 -42.1L1.9 -44.4 M3.5 -40.8L6.6 -41.7 M3.5 -40.8L3.7 -45.3 M6.6 -41.7L9.9 -41.7 M6.6 -41.7L7.1 -44.9 M-8.6 -45.6L-5.7 -44.4 M-5.7 -44.4L-2.7 -45.0 M-5.7 -44.4L-6.3 -48.3 M-2.7 -45.0L1.9 -44.4 M-2.7 -45.0L-1.8 -46.9 M1.9 -44.4L3.7 -45.3 M1.9 -44.4L1.4 -47.3 M3.7 -45.3L7.1 -44.9 M3.7 -45.3L3.3 -46.9 M7.1 -44.9L9.9 -44.7 M7.1 -44.9L7.0 -47.9 M-8.6 -48.2L-6.3 -48.3 M-6.3 -48.3L-1.8 -46.9 M-6.3 -48.3L-4.8 -51.7 M-1.8 -46.9L1.4 -47.3 M-1.8 -46.9L-3.2 -49.9 M1.4 -47.3L3.3 -46.9 M1.4 -47.3L1.8 -51.7 M3.3 -46.9L7.0 -47.9 M3.3 -46.9L3.5 -50.9 M7.0 -47.9L9.9 -47.4 M7.0 -47.9L6.7 -51.3 M-8.6 -50.4L-4.8 -51.7 M-4.8 -51.7L-3.2 -49.9 M-4.8 -51.7L-5.6 -53.3 M-3.2 -49.9L1.8 -51.7 M-3.2 -49.9L-2.9 -54.4 M1.8 -51.7L3.5 -50.9 M1.8 -51.7L0.2 -53.0 M3.5 -50.9L6.7 -51.3 M3.5 -50.9L3.3 -54.5 M6.7 -51.3L9.9 -49.8 M6.7 -51.3L8.3 -53.1 M-8.6 -53.5L-5.6 -53.3 M-5.6 -53.3L-2.9 -54.4 M-5.6 -53.3L-6.6 -54.0 M-2.9 -54.4L0.2 -53.0 M-2.9 -54.4L-1.7 -54.0 M0.2 -53.0L3.3 -54.5 M0.2 -53.0L1.6 -54.0 M3.3 -54.5L8.3 -53.1 M3.3 -54.5L3.4 -54.0 M8.3 -53.1L9.9 -53.8 M8.3 -53.1L6.7 -54.0" stroke="#45a150" stroke-width="0.75" fill="none" clip-path="url(#gc2392)"/><path d="M2.4 -19.9l2.9 2.3 M-5.0 -13.8l1.8 1.3 M-5.7 -15.1l-2.8 0.4 M2.2 -20.2l-3.2 1.0 M-4.8 -22.2l-1.2 1.7 M4.7 -19.9l2.4 2.1 M-2.5 -17.3l3.4 1.8 M-2.5 -14.5l3.2 1.7 M6.7 -18.9l2.7 0.3 M2.0 -20.6l-0.3 2.2 M-0.5 -15.7l0.7 3.3 M-5.4 -14.7l3.6 1.4 M6.9 -13.6l-0.2 2.6 M-2.1 -15.4l0.0 3.9 M-5.7 -18.0l-2.9 1.3 M0.6 -21.9l2.3 1.1 M5.5 -14.5l2.9 2.5 M-6.5 -16.9l-2.7 0.3" stroke="#2e8a3a" stroke-width="0.8" fill="none" stroke-linecap="round" opacity="0.7"/><path d="M -6 0 L 6 0 L 9.2 -18.0 L 9.8 -46.0 L 7 -54.0 L -7 -54.0 L -9.8 -46.0 L -9.2 -18.0 Z" fill="none" stroke="#2b7636" stroke-width="1.2" stroke-linejoin="round"/><ellipse cx="0" cy="-7" rx="4.4" ry="6" fill="#2b8a3a"/></g>
<g transform="translate(593.0 549.0) rotate(-90.0)"><path d="M -6 0 L 6 0 L 9.2 -18.0 L 9.8 -46.0 L 7 -54.0 L -7 -54.0 L -9.8 -46.0 L -9.2 -18.0 Z" fill="#55b160" stroke="#2d7d39" stroke-width="1.2" stroke-linejoin="round"/><path d="M -9.4 -23.8 L 9.4 -23.8 L 9.8 -46.0 L 7 -54.0 L -7 -54.0 L -9.8 -46.0 Z" fill="#e2f5d4"/><clipPath id="gc2465"><path d="M -9.4 -23.8 L 9.4 -23.8 L 9.8 -46.0 L 7 -54.0 L -7 -54.0 L -9.8 -46.0 Z"/></clipPath><path d="M-4.3 -23.8L-4.8 -27.4 M-1.8 -23.8L-1.5 -27.2 M-0.1 -23.8L-0.0 -26.6 M3.8 -23.8L3.2 -26.7 M7.3 -23.8L8.1 -26.6 M-8.6 -27.3L-4.8 -27.4 M-4.8 -27.4L-1.5 -27.2 M-4.8 -27.4L-5.4 -30.6 M-1.5 -27.2L-0.0 -26.6 M-1.5 -27.2L-1.8 -30.5 M-0.0 -26.6L3.2 -26.7 M-0.0 -26.6L1.2 -30.1 M3.2 -26.7L8.1 -26.6 M3.2 -26.7L3.9 -29.4 M8.1 -26.6L9.9 -26.8 M8.1 -26.6L6.6 -30.4 M-8.6 -30.7L-5.4 -30.6 M-5.4 -30.6L-1.8 -30.5 M-5.4 -30.6L-4.6 -32.0 M-1.8 -30.5L1.2 -30.1 M-1.8 -30.5L-2.2 -33.5 M1.2 -30.1L3.9 -29.4 M1.2 -30.1L0.0 -32.0 M3.9 -29.4L6.6 -30.4 M3.9 -29.4L3.3 -32.8 M6.6 -30.4L9.9 -28.9 M6.6 -30.4L7.5 -33.5 M-8.6 -33.1L-4.6 -32.0 M-4.6 -32.0L-2.2 -33.5 M-4.6 -32.0L-5.3 -35.7 M-2.2 -33.5L0.0 -32.0 M-2.2 -33.5L-2.5 -36.4 M0.0 -32.0L3.3 -32.8 M0.0 -32.0L0.8 -36.4 M3.3 -32.8L7.5 -33.5 M3.3 -32.8L3.3 -36.3 M7.5 -33.5L9.9 -32.8 M7.5 -33.5L8.3 -35.8 M-8.6 -36.4L-5.3 -35.7 M-5.3 -35.7L-2.5 -36.4 M-5.3 -35.7L-4.3 -38.8 M-2.5 -36.4L0.8 -36.4 M-2.5 -36.4L-1.5 -38.6 M0.8 -36.4L3.3 -36.3 M0.8 -36.4L1.5 -39.3 M3.3 -36.3L8.3 -35.8 M3.3 -36.3L4.8 -39.5 M8.3 -35.8L9.9 -35.0 M8.3 -35.8L6.8 -39.7 M-8.6 -39.7L-4.3 -38.8 M-4.3 -38.8L-1.5 -38.6 M-4.3 -38.8L-5.9 -41.0 M-1.5 -38.6L1.5 -39.3 M-1.5 -38.6L-3.2 -41.6 M1.5 -39.3L4.8 -39.5 M1.5 -39.3L0.4 -41.6 M4.8 -39.5L6.8 -39.7 M4.8 -39.5L4.9 -41.3 M6.8 -39.7L9.9 -39.0 M6.8 -39.7L6.3 -42.3 M-8.6 -41.7L-5.9 -41.0 M-5.9 -41.0L-3.2 -41.6 M-5.9 -41.0L-6.5 -44.5 M-3.2 -41.6L0.4 -41.6 M-3.2 -41.6L-1.7 -44.1 M0.4 -41.6L4.9 -41.3 M0.4 -41.6L0.6 -44.1 M4.9 -41.3L6.3 -42.3 M4.9 -41.3L4.1 -43.9 M6.3 -42.3L9.9 -41.6 M6.3 -42.3L6.2 -43.9 M-8.6 -43.8L-6.5 -44.5 M-6.5 -44.5L-1.7 -44.1 M-6.5 -44.5L-6.4 -48.3 M-1.7 -44.1L0.6 -44.1 M-1.7 -44.1L-1.6 -47.4 M0.6 -44.1L4.1 -43.9 M0.6 -44.1L0.2 -48.1 M4.1 -43.9L6.2 -43.9 M4.1 -43.9L3.3 -48.4 M6.2 -43.9L9.9 -44.9 M6.2 -43.9L6.7 -48.1 M-8.6 -47.9L-6.4 -48.3 M-6.4 -48.3L-1.6 -47.4 M-6.4 -48.3L-4.7 -50.8 M-1.6 -47.4L0.2 -48.1 M-1.6 -47.4L-2.2 -50.2 M0.2 -48.1L3.3 -48.4 M0.2 -48.1L2.0 -50.3 M3.3 -48.4L6.7 -48.1 M3.3 -48.4L4.5 -51.4 M6.7 -48.1L9.9 -46.8 M6.7 -48.1L7.7 -50.1 M-8.6 -49.8L-4.7 -50.8 M-4.7 -50.8L-2.2 -50.2 M-4.7 -50.8L-4.9 -54.1 M-2.2 -50.2L2.0 -50.3 M-2.2 -50.2L-3.0 -52.8 M2.0 -50.3L4.5 -51.4 M2.0 -50.3L1.4 -53.3 M4.5 -51.4L7.7 -50.1 M4.5 -51.4L3.3 -53.1 M7.7 -50.1L9.9 -50.2 M7.7 -50.1L8.4 -53.0 M-8.6 -54.6L-4.9 -54.1 M-4.9 -54.1L-3.0 -52.8 M-4.9 -54.1L-4.6 -54.0 M-3.0 -52.8L1.4 -53.3 M-3.0 -52.8L-1.5 -54.0 M1.4 -53.3L3.3 -53.1 M1.4 -53.3L1.2 -54.0 M3.3 -53.1L8.4 -53.0 M3.3 -53.1L4.0 -54.0 M8.4 -53.0L9.9 -53.3 M8.4 -53.0L8.2 -54.0" stroke="#45a150" stroke-width="0.75" fill="none" clip-path="url(#gc2465)"/><path d="M-2.8 -13.4l-0.4 3.9 M-5.4 -13.3l-2.0 1.6 M4.7 -20.5l2.4 1.7 M-3.7 -18.0l-3.2 1.0 M2.9 -18.9l-2.8 2.3 M2.6 -13.6l-2.4 1.5 M-5.8 -16.4l-2.3 1.3 M1.3 -14.6l-1.6 1.2 M-0.2 -22.6l3.4 1.2 M-1.1 -16.9l0.4 2.6 M-4.0 -19.3l-2.9 1.5 M-2.9 -21.9l2.2 2.6 M-0.8 -16.3l-1.8 1.3 M2.6 -22.4l-2.0 1.3 M-3.2 -13.4l1.0 2.2 M5.5 -16.8l-2.6 0.9 M-0.0 -13.4l-0.1 4.0 M-4.3 -14.7l2.7 1.5" stroke="#2e8a3a" stroke-width="0.8" fill="none" stroke-linecap="round" opacity="0.7"/><path d="M -6 0 L 6 0 L 9.2 -18.0 L 9.8 -46.0 L 7 -54.0 L -7 -54.0 L -9.8 -46.0 L -9.2 -18.0 Z" fill="none" stroke="#2b7636" stroke-width="1.2" stroke-linejoin="round"/><ellipse cx="0" cy="-7" rx="4.4" ry="6" fill="#2b8a3a"/></g>
<g transform="translate(782.0 474.0) rotate(85.7)"><path d="M -6 0 L 6 0 L 9.2 -18.0 L 9.8 -45.2 L 7 -53.2 L -7 -53.2 L -9.8 -45.2 L -9.2 -18.0 Z" fill="#55b160" stroke="#2d7d39" stroke-width="1.2" stroke-linejoin="round"/><path d="M -9.4 -23.4 L 9.4 -23.4 L 9.8 -45.2 L 7 -53.2 L -7 -53.2 L -9.8 -45.2 Z" fill="#e2f5d4"/><clipPath id="gc2592"><path d="M -9.4 -23.4 L 9.4 -23.4 L 9.8 -45.2 L 7 -53.2 L -7 -53.2 L -9.8 -45.2 Z"/></clipPath><path d="M-6.6 -23.4L-5.8 -27.2 M-3.0 -23.4L-2.1 -25.7 M2.1 -23.4L1.0 -26.6 M4.1 -23.4L5.2 -25.6 M8.1 -23.4L7.8 -27.2 M-8.6 -26.9L-5.8 -27.2 M-5.8 -27.2L-2.1 -25.7 M-5.8 -27.2L-4.3 -29.7 M-2.1 -25.7L1.0 -26.6 M-2.1 -25.7L-1.8 -29.1 M1.0 -26.6L5.2 -25.6 M1.0 -26.6L0.7 -29.3 M5.2 -25.6L7.8 -27.2 M5.2 -25.6L4.6 -28.6 M7.8 -27.2L9.9 -26.1 M7.8 -27.2L7.4 -29.7 M-8.6 -29.5L-4.3 -29.7 M-4.3 -29.7L-1.8 -29.1 M-4.3 -29.7L-4.6 -32.0 M-1.8 -29.1L0.7 -29.3 M-1.8 -29.1L-2.1 -32.5 M0.7 -29.3L4.6 -28.6 M0.7 -29.3L1.6 -31.6 M4.6 -28.6L7.4 -29.7 M4.6 -28.6L4.7 -31.9 M7.4 -29.7L9.9 -28.4 M7.4 -29.7L6.3 -32.7 M-8.6 -33.3L-4.6 -32.0 M-4.6 -32.0L-2.1 -32.5 M-4.6 -32.0L-4.5 -36.1 M-2.1 -32.5L1.6 -31.6 M-2.1 -32.5L-2.0 -35.2 M1.6 -31.6L4.7 -31.9 M1.6 -31.6L-0.1 -35.6 M4.7 -31.9L6.3 -32.7 M4.7 -31.9L4.8 -35.1 M6.3 -32.7L9.9 -33.1 M6.3 -32.7L6.9 -34.9 M-8.6 -34.5L-4.5 -36.1 M-4.5 -36.1L-2.0 -35.2 M-4.5 -36.1L-5.6 -37.4 M-2.0 -35.2L-0.1 -35.6 M-2.0 -35.2L-1.8 -37.8 M-0.1 -35.6L4.8 -35.1 M-0.1 -35.6L1.4 -38.6 M4.8 -35.1L6.9 -34.9 M4.8 -35.1L5.3 -38.0 M6.9 -34.9L9.9 -35.8 M6.9 -34.9L7.9 -38.8 M-8.6 -38.3L-5.6 -37.4 M-5.6 -37.4L-1.8 -37.8 M-5.6 -37.4L-4.6 -40.8 M-1.8 -37.8L1.4 -38.6 M-1.8 -37.8L-2.6 -42.1 M1.4 -38.6L5.3 -38.0 M1.4 -38.6L1.0 -40.6 M5.3 -38.0L7.9 -38.8 M5.3 -38.0L3.4 -40.9 M7.9 -38.8L9.9 -39.1 M7.9 -38.8L6.6 -41.8 M-8.6 -41.2L-4.6 -40.8 M-4.6 -40.8L-2.6 -42.1 M-4.6 -40.8L-5.7 -43.5 M-2.6 -42.1L1.0 -40.6 M-2.6 -42.1L-1.1 -45.0 M1.0 -40.6L3.4 -40.9 M1.0 -40.6L0.5 -43.5 M3.4 -40.9L6.6 -41.8 M3.4 -40.9L3.5 -44.7 M6.6 -41.8L9.9 -42.3 M6.6 -41.8L7.3 -45.2 M-8.6 -44.8L-5.7 -43.5 M-5.7 -43.5L-1.1 -45.0 M-5.7 -43.5L-5.7 -46.5 M-1.1 -45.0L0.5 -43.5 M-1.1 -45.0L-2.8 -48.0 M0.5 -43.5L3.5 -44.7 M0.5 -43.5L2.0 -47.5 M3.5 -44.7L7.3 -45.2 M3.5 -44.7L5.0 -47.1 M7.3 -45.2L9.9 -44.9 M7.3 -45.2L8.1 -47.8 M-8.6 -47.6L-5.7 -46.5 M-5.7 -46.5L-2.8 -48.0 M-5.7 -46.5L-5.5 -50.3 M-2.8 -48.0L2.0 -47.5 M-2.8 -48.0L-1.8 -49.9 M2.0 -47.5L5.0 -47.1 M2.0 -47.5L0.5 -50.7 M5.0 -47.1L8.1 -47.8 M5.0 -47.1L5.2 -50.3 M8.1 -47.8L9.9 -48.1 M8.1 -47.8L6.9 -50.1 M-8.6 -49.9L-5.5 -50.3 M-5.5 -50.3L-1.8 -49.9 M-5.5 -50.3L-6.5 -52.7 M-1.8 -49.9L0.5 -50.7 M-1.8 -49.9L-2.0 -53.7 M0.5 -50.7L5.2 -50.3 M0.5 -50.7L2.1 -53.9 M5.2 -50.3L6.9 -50.1 M5.2 -50.3L3.6 -54.2 M6.9 -50.1L9.9 -50.9 M6.9 -50.1L7.5 -52.9 M-8.6 -52.8L-6.5 -52.7 M-6.5 -52.7L-2.0 -53.7 M-6.5 -52.7L-5.6 -53.2 M-2.0 -53.7L2.1 -53.9 M-2.0 -53.7L-1.5 -53.2 M2.1 -53.9L3.6 -54.2 M2.1 -53.9L0.1 -53.2 M3.6 -54.2L7.5 -52.9 M3.6 -54.2L3.7 -53.2 M7.5 -52.9L9.9 -53.0 M7.5 -52.9L7.7 -53.2" stroke="#45a150" stroke-width="0.75" fill="none" clip-path="url(#gc2592)"/><path d="M1.9 -15.9l-2.1 1.8 M6.2 -15.4l1.3 2.4 M4.3 -19.1l3.1 2.1 M0.4 -17.5l-1.9 3.3 M-5.1 -19.2l2.8 0.6 M0.0 -14.4l-1.6 2.7 M-1.3 -17.0l2.4 2.8 M4.0 -14.5l3.0 1.5 M3.6 -17.7l-3.6 1.2 M3.4 -14.7l-1.7 3.4 M-5.2 -15.8l-1.9 2.6 M-3.1 -21.8l-1.2 3.5 M-3.2 -20.4l1.7 1.4 M2.5 -13.2l-2.2 1.6 M2.8 -21.7l-2.3 1.3 M-7.0 -16.5l2.3 1.1 M-6.2 -18.2l-0.6 3.6 M-6.4 -14.6l2.3 0.8" stroke="#2e8a3a" stroke-width="0.8" fill="none" stroke-linecap="round" opacity="0.7"/><path d="M -6 0 L 6 0 L 9.2 -18.0 L 9.8 -45.2 L 7 -53.2 L -7 -53.2 L -9.8 -45.2 L -9.2 -18.0 Z" fill="none" stroke="#2b7636" stroke-width="1.2" stroke-linejoin="round"/><ellipse cx="0" cy="-7" rx="4.4" ry="6" fill="#2b8a3a"/></g>
<g transform="translate(784.0 520.0) rotate(88.0)"><path d="M -6 0 L 6 0 L 9.2 -18.0 L 9.8 -48.0 L 7 -56.0 L -7 -56.0 L -9.8 -48.0 L -9.2 -18.0 Z" fill="#55b160" stroke="#2d7d39" stroke-width="1.2" stroke-linejoin="round"/><path d="M -9.4 -24.7 L 9.4 -24.7 L 9.8 -48.0 L 7 -56.0 L -7 -56.0 L -9.8 -48.0 Z" fill="#e2f5d4"/><clipPath id="gc2656"><path d="M -9.4 -24.7 L 9.4 -24.7 L 9.8 -48.0 L 7 -56.0 L -7 -56.0 L -9.8 -48.0 Z"/></clipPath><path d="M-5.1 -24.7L-6.1 -27.0 M-2.6 -24.7L-1.5 -27.6 M0.6 -24.7L-0.1 -27.1 M4.4 -24.7L3.1 -27.6 M6.7 -24.7L7.2 -28.5 M-8.6 -27.1L-6.1 -27.0 M-6.1 -27.0L-1.5 -27.6 M-6.1 -27.0L-5.2 -30.9 M-1.5 -27.6L-0.1 -27.1 M-1.5 -27.6L-2.2 -30.5 M-0.1 -27.1L3.1 -27.6 M-0.1 -27.1L0.3 -29.9 M3.1 -27.6L7.2 -28.5 M3.1 -27.6L5.4 -30.0 M7.2 -28.5L9.9 -27.4 M7.2 -28.5L8.5 -31.0 M-8.6 -30.2L-5.2 -30.9 M-5.2 -30.9L-2.2 -30.5 M-5.2 -30.9L-5.5 -34.4 M-2.2 -30.5L0.3 -29.9 M-2.2 -30.5L-2.3 -33.3 M0.3 -29.9L5.4 -30.0 M0.3 -29.9L1.5 -33.7 M5.4 -30.0L8.5 -31.0 M5.4 -30.0L3.8 -34.3 M8.5 -31.0L9.9 -29.7 M8.5 -31.0L7.2 -34.1 M-8.6 -34.5L-5.5 -34.4 M-5.5 -34.4L-2.3 -33.3 M-5.5 -34.4L-5.4 -36.8 M-2.3 -33.3L1.5 -33.7 M-2.3 -33.3L-2.9 -36.2 M1.5 -33.7L3.8 -34.3 M1.5 -33.7L0.3 -37.1 M3.8 -34.3L7.2 -34.1 M3.8 -34.3L4.3 -36.3 M7.2 -34.1L9.9 -34.3 M7.2 -34.1L8.5 -36.2 M-8.6 -36.2L-5.4 -36.8 M-5.4 -36.8L-2.9 -36.2 M-5.4 -36.8L-4.9 -39.2 M-2.9 -36.2L0.3 -37.1 M-2.9 -36.2L-3.2 -40.2 M0.3 -37.1L4.3 -36.3 M0.3 -37.1L-0.2 -38.9 M4.3 -36.3L8.5 -36.2 M4.3 -36.3L4.7 -39.4 M8.5 -36.2L9.9 -35.8 M8.5 -36.2L6.8 -39.9 M-8.6 -38.8L-4.9 -39.2 M-4.9 -39.2L-3.2 -40.2 M-4.9 -39.2L-4.2 -43.0 M-3.2 -40.2L-0.2 -38.9 M-3.2 -40.2L-3.3 -43.3 M-0.2 -38.9L4.7 -39.4 M-0.2 -38.9L0.7 -41.9 M4.7 -39.4L6.8 -39.9 M4.7 -39.4L4.9 -42.7 M6.8 -39.9L9.9 -40.3 M6.8 -39.9L6.4 -43.4 M-8.6 -42.4L-4.2 -43.0 M-4.2 -43.0L-3.3 -43.3 M-4.2 -43.0L-5.5 -44.7 M-3.3 -43.3L0.7 -41.9 M-3.3 -43.3L-1.2 -45.1 M0.7 -41.9L4.9 -42.7 M0.7 -41.9L0.9 -45.0 M4.9 -42.7L6.4 -43.4 M4.9 -42.7L3.3 -46.4 M6.4 -43.4L9.9 -43.3 M6.4 -43.4L7.6 -45.6 M-8.6 -45.1L-5.5 -44.7 M-5.5 -44.7L-1.2 -45.1 M-5.5 -44.7L-6.5 -47.8 M-1.2 -45.1L0.9 -45.0 M-1.2 -45.1L-1.7 -47.8 M0.9 -45.0L3.3 -46.4 M0.9 -45.0L2.2 -48.8 M3.3 -46.4L7.6 -45.6 M3.3 -46.4L4.8 -48.9 M7.6 -45.6L9.9 -46.2 M7.6 -45.6L8.1 -48.0 M-8.6 -49.2L-6.5 -47.8 M-6.5 -47.8L-1.7 -47.8 M-6.5 -47.8L-6.1 -51.5 M-1.7 -47.8L2.2 -48.8 M-1.7 -47.8L-2.5 -52.6 M2.2 -48.8L4.8 -48.9 M2.2 -48.8L1.8 -51.1 M4.8 -48.9L8.1 -48.0 M4.8 -48.9L4.1 -52.6 M8.1 -48.0L9.9 -49.4 M8.1 -48.0L8.3 -51.6 M-8.6 -52.6L-6.1 -51.5 M-6.1 -51.5L-2.5 -52.6 M-6.1 -51.5L-5.1 -53.9 M-2.5 -52.6L1.8 -51.1 M-2.5 -52.6L-2.2 -54.4 M1.8 -51.1L4.1 -52.6 M1.8 -51.1L0.3 -55.2 M4.1 -52.6L8.3 -51.6 M4.1 -52.6L5.2 -54.9 M8.3 -51.6L9.9 -52.5 M8.3 -51.6L6.4 -54.5 M-8.6 -55.0L-5.1 -53.9 M-5.1 -53.9L-2.2 -54.4 M-5.1 -53.9L-6.1 -56.0 M-2.2 -54.4L0.3 -55.2 M-2.2 -54.4L-2.3 -56.0 M0.3 -55.2L5.2 -54.9 M0.3 -55.2L1.2 -56.0 M5.2 -54.9L6.4 -54.5 M5.2 -54.9L4.5 -56.0 M6.4 -54.5L9.9 -55.4 M6.4 -54.5L7.9 -56.0" stroke="#45a150" stroke-width="0.75" fill="none" clip-path="url(#gc2656)"/><path d="M3.7 -17.6l-2.4 2.9 M-4.6 -16.7l-3.6 1.7 M3.0 -18.7l-3.0 1.2 M-5.3 -18.3l1.2 3.2 M4.2 -14.2l3.1 0.0 M3.4 -21.3l-2.2 2.4 M-3.6 -14.0l1.6 1.2 M-0.5 -19.4l-3.9 0.7 M3.9 -23.2l-0.6 3.1 M-1.2 -23.2l0.3 2.9 M6.4 -15.6l-2.0 0.8 M-5.0 -18.0l-0.9 2.5 M0.1 -13.5l1.4 3.5 M-6.0 -23.3l-1.0 1.9 M0.9 -17.1l-2.4 1.9 M2.9 -16.6l-1.0 2.7 M2.4 -17.7l1.9 1.4 M0.1 -14.7l2.7 2.1" stroke="#2e8a3a" stroke-width="0.8" fill="none" stroke-linecap="round" opacity="0.7"/><path d="M -6 0 L 6 0 L 9.2 -18.0 L 9.8 -48.0 L 7 -56.0 L -7 -56.0 L -9.8 -48.0 L -9.2 -18.0 Z" fill="none" stroke="#2b7636" stroke-width="1.2" stroke-linejoin="round"/><ellipse cx="0" cy="-7" rx="4.4" ry="6" fill="#2b8a3a"/></g>
<g transform="translate(797.5 587.0) rotate(74.5)"><path d="M -6 0 L 6 0 L 9.2 -18.0 L 9.8 -44.4 L 7 -52.4 L -7 -52.4 L -9.8 -44.4 L -9.2 -18.0 Z" fill="#55b160" stroke="#2d7d39" stroke-width="1.2" stroke-linejoin="round"/><path d="M -9.4 -23.1 L 9.4 -23.1 L 9.8 -44.4 L 7 -52.4 L -7 -52.4 L -9.8 -44.4 Z" fill="#e2f5d4"/><clipPath id="gc2792"><path d="M -9.4 -23.1 L 9.4 -23.1 L 9.8 -44.4 L 7 -52.4 L -7 -52.4 L -9.8 -44.4 Z"/></clipPath><path d="M-4.8 -23.1L-5.0 -26.9 M-1.8 -23.1L-2.8 -25.3 M2.2 -23.1L2.2 -26.9 M4.5 -23.1L3.7 -26.4 M6.4 -23.1L6.9 -26.1 M-8.6 -26.0L-5.0 -26.9 M-5.0 -26.9L-2.8 -25.3 M-5.0 -26.9L-6.1 -29.9 M-2.8 -25.3L2.2 -26.9 M-2.8 -25.3L-3.3 -28.7 M2.2 -26.9L3.7 -26.4 M2.2 -26.9L1.6 -29.6 M3.7 -26.4L6.9 -26.1 M3.7 -26.4L3.9 -28.1 M6.9 -26.1L9.9 -25.9 M6.9 -26.1L8.4 -28.9 M-8.6 -29.4L-6.1 -29.9 M-6.1 -29.9L-3.3 -28.7 M-6.1 -29.9L-4.8 -32.9 M-3.3 -28.7L1.6 -29.6 M-3.3 -28.7L-3.3 -32.9 M1.6 -29.6L3.9 -28.1 M1.6 -29.6L1.6 -31.7 M3.9 -28.1L8.4 -28.9 M3.9 -28.1L3.3 -31.2 M8.4 -28.9L9.9 -29.6 M8.4 -28.9L8.1 -32.9 M-8.6 -31.5L-4.8 -32.9 M-4.8 -32.9L-3.3 -32.9 M-4.8 -32.9L-6.0 -35.8 M-3.3 -32.9L1.6 -31.7 M-3.3 -32.9L-1.5 -34.4 M1.6 -31.7L3.3 -31.2 M1.6 -31.7L-0.1 -35.3 M3.3 -31.2L8.1 -32.9 M3.3 -31.2L3.4 -35.7 M8.1 -32.9L9.9 -31.8 M8.1 -32.9L8.5 -34.7 M-8.6 -35.5L-6.0 -35.8 M-6.0 -35.8L-1.5 -34.4 M-6.0 -35.8L-4.8 -37.6 M-1.5 -34.4L-0.1 -35.3 M-1.5 -34.4L-2.6 -37.5 M-0.1 -35.3L3.4 -35.7 M-0.1 -35.3L-0.2 -38.0 M3.4 -35.7L8.5 -34.7 M3.4 -35.7L3.8 -38.0 M8.5 -34.7L9.9 -35.1 M8.5 -34.7L7.1 -37.4 M-8.6 -37.8L-4.8 -37.6 M-4.8 -37.6L-2.6 -37.5 M-4.8 -37.6L-6.0 -41.4 M-2.6 -37.5L-0.2 -38.0 M-2.6 -37.5L-3.2 -41.7 M-0.2 -38.0L3.8 -38.0 M-0.2 -38.0L-0.1 -40.4 M3.8 -38.0L7.1 -37.4 M3.8 -38.0L4.0 -41.4 M7.1 -37.4L9.9 -39.1 M7.1 -37.4L6.4 -41.8 M-8.6 -40.5L-6.0 -41.4 M-6.0 -41.4L-3.2 -41.7 M-6.0 -41.4L-6.5 -43.7 M-3.2 -41.7L-0.1 -40.4 M-3.2 -41.7L-2.8 -43.2 M-0.1 -40.4L4.0 -41.4 M-0.1 -40.4L2.0 -44.0 M4.0 -41.4L6.4 -41.8 M4.0 -41.4L4.9 -43.8 M6.4 -41.8L9.9 -41.1 M6.4 -41.8L7.8 -44.6 M-8.6 -44.6L-6.5 -43.7 M-6.5 -43.7L-2.8 -43.2 M-6.5 -43.7L-4.9 -47.2 M-2.8 -43.2L2.0 -44.0 M-2.8 -43.2L-3.1 -46.2 M2.0 -44.0L4.9 -43.8 M2.0 -44.0L1.3 -46.8 M4.9 -43.8L7.8 -44.6 M4.9 -43.8L3.4 -46.2 M7.8 -44.6L9.9 -43.5 M7.8 -44.6L6.9 -47.3 M-8.6 -46.3L-4.9 -47.2 M-4.9 -47.2L-3.1 -46.2 M-4.9 -47.2L-6.4 -49.3 M-3.1 -46.2L1.3 -46.8 M-3.1 -46.2L-1.9 -49.8 M1.3 -46.8L3.4 -46.2 M1.3 -46.8L1.4 -49.6 M3.4 -46.2L6.9 -47.3 M3.4 -46.2L3.3 -50.9 M6.9 -47.3L9.9 -47.4 M6.9 -47.3L6.4 -50.3 M-8.6 -49.1L-6.4 -49.3 M-6.4 -49.3L-1.9 -49.8 M-6.4 -49.3L-4.8 -52.4 M-1.9 -49.8L1.4 -49.6 M-1.9 -49.8L-2.1 -52.4 M1.4 -49.6L3.3 -50.9 M1.4 -49.6L-0.0 -52.4 M3.3 -50.9L6.4 -50.3 M3.3 -50.9L3.2 -52.4 M6.4 -50.3L9.9 -50.9 M6.4 -50.3L7.5 -52.4" stroke="#45a150" stroke-width="0.75" fill="none" clip-path="url(#gc2792)"/><path d="M-0.1 -13.3l-1.4 2.1 M3.8 -20.4l2.5 0.8 M-1.3 -15.8l0.6 3.4 M-5.7 -13.6l1.7 3.2 M-6.6 -14.6l2.8 2.4 M4.2 -16.0l1.3 1.5 M-4.3 -13.9l2.9 1.6 M1.2 -16.1l1.9 1.2 M-5.6 -13.2l1.2 3.1 M1.0 -20.0l2.0 0.4 M4.9 -20.9l-2.7 0.3 M3.1 -20.8l-2.0 1.5 M-1.9 -17.3l2.3 0.9 M4.1 -19.5l1.3 3.3 M-3.9 -20.3l2.1 1.8 M-1.9 -16.2l0.3 3.7 M-6.3 -16.0l-2.2 1.2 M-6.6 -18.1l2.7 1.0" stroke="#2e8a3a" stroke-width="0.8" fill="none" stroke-linecap="round" opacity="0.7"/><path d="M -6 0 L 6 0 L 9.2 -18.0 L 9.8 -44.4 L 7 -52.4 L -7 -52.4 L -9.8 -44.4 L -9.2 -18.0 Z" fill="none" stroke="#2b7636" stroke-width="1.2" stroke-linejoin="round"/><ellipse cx="0" cy="-7" rx="4.4" ry="6" fill="#2b8a3a"/></g>
<path d="M 441 609 L 441 641 Q 441 650 450 650 L 472 650 Q 481 650 481 641 L 481 609 Q 481 607 478 607 L 444 607 Q 441 607 441 609 Z" fill="#8dbde3" stroke="#7aaed8" stroke-width="0.8"/>
<path d="M 448 607 L 448 621 Q 448 633 460.5 633 Q 473 633 473 621 L 473 607 Z" fill="#e5d9d0"/>
<path d="M 450 608 l0 4 M 455 607 l0 5 M 460 608 l0 4 M 465 607 l0 5 M 470 608 l0 4" stroke="#b5a49c" stroke-width="1"/>
<ellipse cx="460.5" cy="639.5" rx="7.5" ry="4.8" fill="#3f7fbf"/>
<path d="M 764 396 L 771 398 L 772 431 L 759 442 L 757 426 L 759.5 410 Z" fill="#729dd8" stroke="#5d89c6" stroke-width="0.7"/>
<circle cx="764.5" cy="420.5" r="5" fill="#4e80c2"/>
<path d="M -5.0 290.0 C -4.2 289.8 -10.8 292.0 0.0 289.0 C 10.8 286.0 38.3 276.5 60.0 272.0 C 81.7 267.5 106.7 263.5 130.0 262.0 C 153.3 260.5 168.3 261.0 200.0 263.0 C 231.7 265.0 286.7 270.3 320.0 274.0 C 353.3 277.7 373.3 281.7 400.0 285.0 C 426.7 288.3 460.0 292.2 480.0 294.0 C 500.0 295.8 506.7 295.3 520.0 295.5 C 533.3 295.7 546.7 295.9 560.0 295.0 C 573.3 294.1 586.7 292.2 600.0 290.0 C 613.3 287.8 623.3 285.7 640.0 282.0 C 656.7 278.3 680.0 272.3 700.0 268.0 C 720.0 263.7 740.0 258.8 760.0 256.0 C 780.0 253.2 800.0 251.7 820.0 251.0 C 840.0 250.3 861.7 251.2 880.0 252.0 C 898.3 252.8 916.7 254.3 930.0 256.0 C 943.3 257.7 954.2 260.8 960.0 262.0 C 965.8 263.2 964.2 262.8 965.0 263.0" fill="none" stroke="#2a2a2a" stroke-width="1.4"/>
<defs><linearGradient id="gh" x1="460" y1="0" x2="613" y2="0" gradientUnits="userSpaceOnUse"><stop offset="0" stop-color="#2a2326"/><stop offset="1" stop-color="#2a2326" stop-opacity="0"/></linearGradient><linearGradient id="gv" x1="0" y1="692" x2="0" y2="560" gradientUnits="userSpaceOnUse"><stop offset="0" stop-color="#2a2428" stop-opacity="0"/><stop offset="0.45" stop-color="#2a2428" stop-opacity="0.75"/><stop offset="1" stop-color="#1d1d22"/></linearGradient><linearGradient id="gv2" x1="0" y1="800" x2="0" y2="780" gradientUnits="userSpaceOnUse"><stop offset="0" stop-color="#1d1d22" stop-opacity="0.2"/><stop offset="1" stop-color="#1d1d22"/></linearGradient></defs>
<path d="M 461 870.4 L 232.5 870.4 Q 224.8 870.4 224.8 862.7 L 224.8 371" fill="none" stroke="#231c20" stroke-width="1.5"/>
<path d="M 460 870.4 L 613 870.4" fill="none" stroke="url(#gh)" stroke-width="1.5"/>
<path d="M 224.6 363.4 L 229.3 372.8 L 219.9 372.8 Z" fill="#161214"/>
<path d="M463.2 543.6 L462.4 695.5 L464.3 695.5 L463.6 543.6 Z" fill="#1b1b1d"/><path d="M463.4 703.0 L459.0 694.2 L467.8 694.2 Z" fill="#1b1b1d"/>
<path d="M 771.8 692 L 772.6 692 L 773.2 316 L 771.2 316 Z" fill="url(#gv)"/>
<path d="M 772.2 308.4 L 776.9 318 L 767.5 318 Z" fill="#1b1b1f"/>
<path d="M 769.6 800 L 769.6 761" stroke="url(#gv2)" stroke-width="1.8" fill="none"/>
<path d="M 769.6 753 L 774 763.5 L 765.2 763.5 Z" fill="#1b1b1f"/>
<path d="M651.2 800.0 L651.0 837.6 L652.5 837.6 L652.4 800.0 Z" fill="#1b1b1d"/><path d="M651.8 844.8 L648.0 836.3 L655.5 836.3 Z" fill="#1b1b1d"/>
<path d="M526.0 756.5 L579.2 757.2 L579.2 755.3 L526.0 756.0 Z" fill="#1b1b1d"/><path d="M586.0 756.3 L578.0 760.8 L578.0 751.8 Z" fill="#1b1b1d"/>
<path d="M542.1 152.1 L574.7 142.2 L573.9 140.0 L541.9 151.5 Z" fill="#1b1b1d"/><path d="M582.8 138.3 L574.2 145.6 L571.5 137.6 Z" fill="#1b1b1d"/>
<path d="M709.3 144.9 L741.5 134.8 L740.8 132.5 L709.1 144.3 Z" fill="#1b1b1d"/><path d="M749.6 130.8 L741.0 138.2 L738.3 130.2 Z" fill="#1b1b1d"/>
<path d="M448.2 745.2 Q439.8 737.1 428.5 736.2 Q427.7 733.8 429.9 732.6 Q442.0 731.6 450.3 740.0 A23.5 23.5 0 0 1 452.3 737.0 Q447.2 732.1 443.0 726.3 Q443.2 723.9 445.6 723.7 Q451.4 727.9 456.3 733.0 A23.5 23.5 0 0 1 474.4 728.3 Q483.3 717.6 482.1 704.2 Q484.3 703.2 485.7 705.2 Q489.0 719.2 479.8 729.8 A23.5 23.5 0 0 1 484.9 732.7 Q487.3 720.3 500.2 718.0 Q502.7 718.1 503.0 720.6 Q491.6 724.4 489.0 736.6 A23.5 23.5 0 0 1 488.7 736.3 Q492.2 733.8 496.4 732.3 Q498.7 733.0 498.4 735.5 Q495.5 738.7 491.8 741.0 A23.5 23.5 0 0 1 494.3 751.5 Q504.4 754.4 514.8 754.9 Q516.2 757.0 514.4 758.7 Q503.7 760.2 493.6 757.1 A23.5 23.5 0 0 1 491.7 762.3 Q495.2 764.5 498.0 767.7 Q498.2 770.2 495.8 770.9 Q491.8 769.4 488.5 767.0 A23.5 23.5 0 0 1 481.1 772.6 Q487.7 780.8 486.7 791.6 Q485.4 793.7 483.1 792.8 Q482.1 782.7 475.8 774.5 A23.5 23.5 0 0 1 457.6 770.9 Q446.8 775.4 443.1 786.1 Q440.6 786.1 440.3 783.7 Q442.3 771.6 453.4 767.2 A23.5 23.5 0 0 1 450.1 762.7 Q441.8 769.9 430.4 769.5 Q428.2 768.3 429.0 765.9 Q439.6 764.4 448.1 757.4 A23.5 23.5 0 0 1 448.3 758.2 Q445.7 758.8 443.0 758.2 Q441.1 756.6 442.4 754.4 Q444.8 752.9 447.3 752.7 A23.5 23.5 0 0 1 448.2 745.2 Z" fill="#f9d7ad" stroke="#8f6e55" stroke-width="1" stroke-dasharray="6 1.5" stroke-linejoin="round"/><ellipse cx="473" cy="753.6" rx="14" ry="11.8" transform="rotate(-35 473 753.6)" fill="#eeaa84"/>
<circle cx="647.6" cy="753.6" r="37.2" fill="#f9d6ac" stroke="#b38966" stroke-width="1"/>
<circle cx="649.2" cy="747.9" r="22" fill="#efad86"/>
<ellipse cx="772.3" cy="829.8" rx="36.5" ry="25.6" fill="#f4c59c" stroke="#b98c6b" stroke-width="1"/>
<ellipse cx="758.5" cy="830.4" rx="14.4" ry="15.4" fill="#d8804e"/>
<path d="M775.0 816.5 Q783.0 830.5 773.5 844.5 M779.3 818.1 Q787.3 830.5 777.8 842.9 M783.6 819.7 Q791.6 830.5 782.1 841.3 M787.9 821.3 Q795.9 830.5 786.4 839.7 M792.2 822.9 Q800.2 830.5 790.7 838.1" fill="none" stroke="#d39550" stroke-width="1.2" stroke-dasharray="3.5 1.2"/>
<g fill="#d4934f"><circle cx="795.5" cy="823.5" r="0.9"/><circle cx="798.5" cy="829" r="0.9"/><circle cx="796.5" cy="837" r="0.9"/></g>
<path d="M762.5 710.6 L766.9 720.0" stroke="#2f5ea8" stroke-width="4" stroke-linecap="round"/><path d="M763.6 713.0 L766.5 719.1" stroke="#cfe0f4" stroke-width="1.1"/><path d="M762.5 710.6 L751.0 707.5" stroke="#3a68b2" stroke-width="4" stroke-linecap="square"/><path d="M754.0 708.3 L751.0 707.5" stroke="#bf9142" stroke-width="3.9" stroke-linecap="butt"/><path d="M762.5 710.6 L768.5 700.5" stroke="#3a68b2" stroke-width="4" stroke-linecap="square"/><path d="M766.9 703.1 L768.5 700.5" stroke="#bf9142" stroke-width="3.9" stroke-linecap="butt"/>
<path d="M795.0 713.0 L799.4 721.3" stroke="#2f5ea8" stroke-width="4" stroke-linecap="round"/><path d="M796.1 715.1 L799.0 720.5" stroke="#cfe0f4" stroke-width="1.1"/><path d="M795.0 713.0 L782.5 711.3" stroke="#3a68b2" stroke-width="4" stroke-linecap="square"/><path d="M785.8 711.7 L782.5 711.3" stroke="#bf9142" stroke-width="3.9" stroke-linecap="butt"/><path d="M795.0 713.0 L798.7 702.0" stroke="#3a68b2" stroke-width="4" stroke-linecap="square"/><path d="M797.7 704.9 L798.7 702.0" stroke="#bf9142" stroke-width="3.9" stroke-linecap="butt"/>
<path d="M786.3 735.0 L790.0 742.5" stroke="#2f5ea8" stroke-width="4" stroke-linecap="round"/><path d="M787.2 736.9 L789.6 741.8" stroke="#cfe0f4" stroke-width="1.1"/><path d="M786.3 735.0 L774.4 733.8" stroke="#3a68b2" stroke-width="4" stroke-linecap="square"/><path d="M777.5 734.1 L774.4 733.8" stroke="#bf9142" stroke-width="3.9" stroke-linecap="butt"/><path d="M786.3 735.0 L788.7 724.4" stroke="#3a68b2" stroke-width="4" stroke-linecap="square"/><path d="M788.1 727.2 L788.7 724.4" stroke="#bf9142" stroke-width="3.9" stroke-linecap="butt"/>
<g fill="#9659ad" stroke="#603078" stroke-width="1.1"><circle cx="430.9" cy="463.5" r="4.2"/><circle cx="446.7" cy="463.1" r="4.2"/><circle cx="470.1" cy="460.8" r="4.2"/><circle cx="485.6" cy="466.2" r="4.2"/><circle cx="416.9" cy="472.5" r="4.2"/><circle cx="440.4" cy="478.4" r="4.2"/><circle cx="426.4" cy="481.1" r="4.2"/><circle cx="469.3" cy="473.2" r="4.2"/><circle cx="495.9" cy="478.0" r="4.2"/><circle cx="479.9" cy="483.0" r="4.2"/><circle cx="459.6" cy="494.2" r="4.2"/><circle cx="448.5" cy="505.5" r="4.2"/><circle cx="465.4" cy="510.2" r="4.2"/><circle cx="444.4" cy="521.7" r="4.2"/><circle cx="457.1" cy="521.3" r="4.2"/></g>
<g fill="#8a52a6"><circle cx="549.4" cy="742.2" r="1.6"/><circle cx="557.8" cy="737.5" r="1.6"/><circle cx="565.9" cy="737.5" r="1.6"/><circle cx="554.6" cy="746.9" r="1.6"/><circle cx="562.9" cy="745.4" r="1.6"/></g>
<g fill="#f1c3a4" stroke="#d08a5c" stroke-width="1.1" stroke-linejoin="round"><path d="M221.9 295.5 l2.5 4.6 l-5 0 Z"/><circle cx="242.7" cy="302.9" r="2.6"/><rect x="228.8" y="308.1" width="5" height="5" rx="1"/><circle cx="259.4" cy="309.2" r="2.6"/><circle cx="212.1" cy="315.8" r="2.6"/><rect x="247.5" y="312.9" width="5" height="5" rx="1"/><circle cx="225.0" cy="324.6" r="2.6"/><circle cx="239.6" cy="323.1" r="2.6"/><circle cx="260.4" cy="323.1" r="2.6"/><path d="M214.6 327.8 l2.5 4.6 l-5 0 Z"/><circle cx="251.0" cy="334.6" r="2.6"/><path d="M234.4 335.1 l2.5 4.6 l-5 0 Z"/><circle cx="221.9" cy="341.9" r="2.6"/><circle cx="239.6" cy="345.4" r="2.6"/></g>
<g id="bac"><path d="M209.5 153.0 L213.0 145.0" stroke="#6b7784" stroke-width="1" stroke-dasharray="2.5 1.5"/><path d="M208.8 156.0 L201.8 168.3" stroke="#41699a" stroke-width="6.2" stroke-linecap="round"/><path d="M250.0 158.0 Q251.8 165.1 258.5 168.0" stroke="#8fbfc0" stroke-width="6.8" stroke-linecap="round" fill="none"/><path d="M250.0 158.0 Q251.8 165.1 258.5 168.0" stroke="#a7d0d0" stroke-width="5.6" stroke-linecap="round" fill="none"/><g transform="translate(292.5 157.5) rotate(0.0)"><path d="M9.3 -0.8 l8.1 -1.5 M6.9 2.9 l4.2 4.0 M3.0 4.0 l2.1 6.3 M-3.6 3.9 l-3.0 7.4 M-6.4 3.1 l-3.3 3.6 M-9.4 -0.7 l-6.4 -1.1 M-6.9 -2.9 l-3.5 -3.3 M-3.2 -4.0 l-2.6 -7.2 M1.7 -4.2 l1.5 -8.4 M8.6 -1.8 l4.5 -2.0" stroke="#5b6a78" stroke-width="1" stroke-dasharray="2.2 1.6" fill="none"/><rect x="-8.5" y="-3.2" width="17.0" height="6.5" rx="2" fill="#2a97b4"/></g><g transform="translate(232.5 182.5) rotate(-3.0)"><path d="M9.3 1.0 l10.5 2.4 M9.1 1.3 l6.1 1.9 M3.3 4.2 l3.4 9.1 M-0.8 4.5 l-0.6 7.5 M-5.2 3.8 l-4.9 7.6 M-8.4 2.1 l-6.0 3.2 M-9.5 0.2 l-8.0 0.3 M-7.6 -2.7 l-8.8 -6.5 M-2.8 -4.3 l-2.6 -8.3 M-0.3 -4.5 l-0.2 -7.3 M2.7 -4.3 l1.8 -5.9 M8.1 -2.3 l6.5 -3.9" stroke="#5b6a78" stroke-width="1" stroke-dasharray="2.2 1.6" fill="none"/><rect x="-8.5" y="-3.5" width="17.0" height="7.0" rx="2" fill="#2a97b4"/></g><path d="M277.9 179.0 L271.6 189.0" stroke="#4877a8" stroke-width="6.2" stroke-linecap="round"/><path d="M271.0 191.0 L265.0 200.0" stroke="#6b7784" stroke-width="1" stroke-dasharray="2.5 1.5"/><path d="M291.0 200.0 L286.0 211.0" stroke="#6b7784" stroke-width="1" stroke-dasharray="2.5 1.5"/><path d="M298.6 185.6 L293.4 196.2" stroke="#1f4b80" stroke-width="6.2" stroke-linecap="round"/><path d="M314.5 193.0 Q319.9 197.5 319.5 204.5" stroke="#8fbfc0" stroke-width="6.8" stroke-linecap="round" fill="none"/><path d="M314.5 193.0 Q319.9 197.5 319.5 204.5" stroke="#a7d0d0" stroke-width="5.6" stroke-linecap="round" fill="none"/><path d="M191.8 195.0 Q196.6 202.3 193.6 210.5" stroke="#8fbfc0" stroke-width="6.8" stroke-linecap="round" fill="none"/><path d="M191.8 195.0 Q196.6 202.3 193.6 210.5" stroke="#a7d0d0" stroke-width="5.6" stroke-linecap="round" fill="none"/><path d="M206.7 220.5 L208.5 220.7 L209.9 220.4 L210.7 219.1 L211.1 217.3 L211.4 215.5 L212.2 214.2 L213.6 213.9 L215.4 214.1 L217.3 214.3 L218.7 214.0 L219.4 212.7 L219.8 210.9 L220.1 209.1 L220.9 207.8 L222.3 207.5 L224.1 207.7 L226.0 207.9 L227.4 207.6 L228.2 206.3 L228.5 204.5" stroke="#a9cfd9" stroke-width="2.2" fill="none" stroke-linecap="round"/><path d="M206.0 222.0 L192.0 227.0" stroke="#6b7784" stroke-width="1" stroke-dasharray="2.5 1.5"/><path d="M236.5 212.7 L237.8 214.8 L239.2 215.9 L241.1 215.5 L243.1 214.1 L245.1 212.7 L246.9 212.3 L248.4 213.4 L249.7 215.5 L250.9 217.6 L252.4 218.7 L254.2 218.3 L256.2 216.9 L258.3 215.5 L260.1 215.1 L261.6 216.2 L262.8 218.3 L264.1 220.4 L265.6 221.5 L267.4 221.1 L269.4 219.7" stroke="#43709f" stroke-width="2.6" fill="none" stroke-linecap="round"/><path d="M268.3 218.3 L277.0 222.5" stroke="#6b7784" stroke-width="1" stroke-dasharray="2.5 1.5"/><path d="M211.8 236.8 L223.6 231.0" stroke="#3f6b9b" stroke-width="6.2" stroke-linecap="round"/><path d="M224.0 230.8 L235.0 223.3" stroke="#6b7784" stroke-width="1" stroke-dasharray="2.5 1.5"/><path d="M243.5 237.5 Q250.7 236.1 256.5 240.5" stroke="#8fbfc0" stroke-width="6.8" stroke-linecap="round" fill="none"/><path d="M243.5 237.5 Q250.7 236.1 256.5 240.5" stroke="#a7d0d0" stroke-width="5.6" stroke-linecap="round" fill="none"/><g transform="translate(305.0 228.8) rotate(90.0)"><path d="M8.2 -0.5 l6.9 -0.9 M6.2 2.3 l5.4 4.8 M-0.5 3.5 l-0.3 5.1 M-4.3 3.0 l-4.2 7.0 M-8.2 0.4 l-5.7 0.7 M-4.2 -3.0 l-3.4 -5.7 M1.4 -3.5 l1.1 -6.6 M6.2 -2.3 l4.1 -3.5" stroke="#5b6a78" stroke-width="1" stroke-dasharray="2.2 1.6" fill="none"/><rect x="-7.2" y="-2.5" width="14.5" height="5.0" rx="2" fill="#8ec1d5"/></g></g>
<use href="#bac" x="218" y="0"/>
<use href="#bac" x="441" y="0"/>
<path d="M73.5 120 L84.5 120 L84.8 130 Q84 137 79 137.5 Q74 137 73.3 130 Z" fill="#f2f2f4" stroke="#c9c9cf" stroke-width="0.6"/><path d="M73.6 128 L84.7 128 Q84.5 137 79 137.5 Q73.7 137 73.6 128 Z" fill="#9b1d36"/><path d="M79 137.5 L79 150 M74.5 151 L83.5 151" stroke="#cfcfd4" stroke-width="1.2"/><path d="M87 82 Q87 80.5 89 80.5 L92.5 80.5 Q94.5 80.5 94.5 82 L94.8 106 Q100 110 100.5 118 L100.5 152 Q100.5 154 98.5 154 L84.5 154 Q82.5 154 82.5 152 L82.5 118 Q83 110 87.2 106 Z" fill="#3b5a1f"/><path d="M87 82 Q87 80.5 89 80.5 L92.5 80.5 Q94.5 80.5 94.5 82 L94.8 104 L87.2 104 Z" fill="#b9a25a"/><path d="M88.5 84 L88.5 102" stroke="#e0cf90" stroke-width="1.2"/><rect x="83.3" y="133" width="11" height="14.5" fill="#d6c28c"/><rect x="100" y="102" width="7.8" height="9" rx="1" fill="#d9a55c"/><path d="M100.5 111 L107.5 111 Q113.5 114 113.5 121 L113.5 148 Q113.5 150 111.5 150 L96 150 Q94 150 94 148 L94 121 Q94 114 100.5 111 Z" fill="#eef1f5" stroke="#d5dae2" stroke-width="0.6"/><path d="M94.2 147 Q94 146 96 146 L112 146 Q114 146 114 148 L113.5 159 Q113 162 110 162 L98 162 Q95 162 94.7 159 Z" fill="#e8923a"/><path d="M97 149 L110 149" stroke="#f4b26a" stroke-width="1"/><path d="M116 99 L121.5 99 L121.7 112 Q124.8 115 124.8 120 L124.8 147 Q124.8 148 123.5 148 L114 148 Q112.8 148 112.8 147 L112.8 120 Q112.8 115 115.8 112 Z" fill="#2f7a2c"/><path d="M113.5 127 L124 127 L124 141 L113.5 141 Z" fill="#1c3a1a"/><path d="M116.5 129 Q114.5 134 116.5 139 M121 129 Q123 134 121 139" stroke="#e6efe4" stroke-width="1.6" fill="none"/><path d="M139.5 126 Q145 126 145 133 L145 141 Q145 147 139.5 147" stroke="#d8dadf" stroke-width="2.2" fill="none"/><path d="M123 121 L140 121 L140 149 Q140 151 138 151 L125 151 Q123 151 123 149 Z" fill="#f8f6ee" stroke="#d8d6ce" stroke-width="0.6"/><path d="M123.5 128 L139.5 128 L139.5 148.5 Q139.5 150.5 137.5 150.5 L125.5 150.5 Q123.5 150.5 123.5 148.5 Z" fill="#f6d22a"/><path d="M126 130 L126 147" stroke="#fbe77a" stroke-width="1.4"/>
<text transform="translate(626.5 877.8) scale(0.92 1)" x="0" y="0" font-size="20" font-weight="bold" fill="#213558" textLength="19.0" lengthAdjust="spacingAndGlyphs">IL</text>
<text transform="translate(644.5 877.8) scale(0.92 1)" x="0" y="0" font-size="20" fill="#213558" textLength="27.4" lengthAdjust="spacing">-22</text>
<text transform="translate(17.0 192.0) scale(0.90 1)" x="0" y="0" font-size="19.0" fill="#43284a" textLength="127.8" lengthAdjust="spacing">Intestinal flora</text>
<text transform="translate(589.0 143.7) scale(0.90 1)" x="0" y="0" font-size="19.0" fill="#1f3257" textLength="61.7" lengthAdjust="spacing">SCFAs</text>
<text transform="translate(769.7 135.3) scale(0.90 1)" x="0" y="0" font-size="19.0" fill="#1f3257" textLength="116.3" lengthAdjust="spacing">3-ILA/3-IAC</text>
<text transform="translate(747.5 284.4) scale(0.90 1)" x="0" y="0" font-size="19.0" fill="#1f3257" textLength="89.4" lengthAdjust="spacing">Pathogens</text>
<text transform="translate(22.0 336.0) scale(0.90 1)" x="0" y="0" font-size="19.0" fill="#43284a" textLength="191.1" lengthAdjust="spacing">Intestinal mucus layer</text>
<text transform="translate(280.2 321.7) scale(0.90 1)" x="0" y="0" font-size="19.0" fill="#1f3257" textLength="121.6" lengthAdjust="spacing">Antimicrobial</text>
<text transform="translate(280.2 344.2) scale(0.90 1)" x="0" y="0" font-size="19.0" fill="#1f3257" textLength="85.6" lengthAdjust="spacing">molecules</text>
<text transform="translate(246.4 466.8) scale(0.90 1)" x="0" y="0" font-size="19.0" fill="#1f3257" textLength="59.3" lengthAdjust="spacing">Paneth</text>
<text transform="translate(245.0 487.7) scale(0.90 1)" x="0" y="0" font-size="19.0" fill="#1f3257" textLength="28.7" lengthAdjust="spacing">cell</text>
<text transform="translate(416.2 437.7) scale(0.90 1)" x="0" y="0" font-size="18.0" fill="#1f3257" textLength="103.1" lengthAdjust="spacing">LPS、PGN</text>
<text transform="translate(704.2 479.4) scale(0.90 1)" x="0" y="0" font-size="18.0" fill="#1f3257" textLength="45.0" lengthAdjust="spacing">PIgR</text>
<text transform="translate(394.2 668.2) scale(0.90 1)" x="0" y="0" font-size="18.5" fill="#1f3257" textLength="52.8" lengthAdjust="spacing">M cell</text>
<text transform="translate(22.0 676.2) scale(0.90 1)" x="0" y="0" font-size="18.5" fill="#43284a" textLength="201.8" lengthAdjust="spacing">Intestinal epithelial cell</text>
<text transform="translate(606.2 701.7) scale(0.90 1)" x="0" y="0" font-size="18.5" fill="#1f3257" textLength="102.2" lengthAdjust="spacing">lymphocyte</text>
<text transform="translate(811.9 732.5) scale(0.90 1)" x="0" y="0" font-size="19.0" fill="#1f3257" textLength="30.6" lengthAdjust="spacing">IgA</text>
<text transform="translate(462.8 815.3) scale(0.90 1)" x="0" y="0" font-size="18.5" fill="#1f3257" textLength="38.3" lengthAdjust="spacing">DCs</text>
<text transform="translate(540.0 777.2) scale(0.90 1)" x="0" y="0" font-size="13.5" fill="#1f3257" textLength="40.7" lengthAdjust="spacing">IL-23</text>
<text transform="translate(834.4 833.1) scale(0.90 1)" x="0" y="0" font-size="19.0" fill="#1f3257" textLength="100.0" lengthAdjust="spacing">Plasmocyte</text>
<text x="308" y="43.5" font-size="23" font-weight="bold" font-style="italic" fill="#2c4a7e" textLength="340" lengthAdjust="spacingAndGlyphs">Alcohol and systemic inflammation</text>
</svg>
</body></html>
